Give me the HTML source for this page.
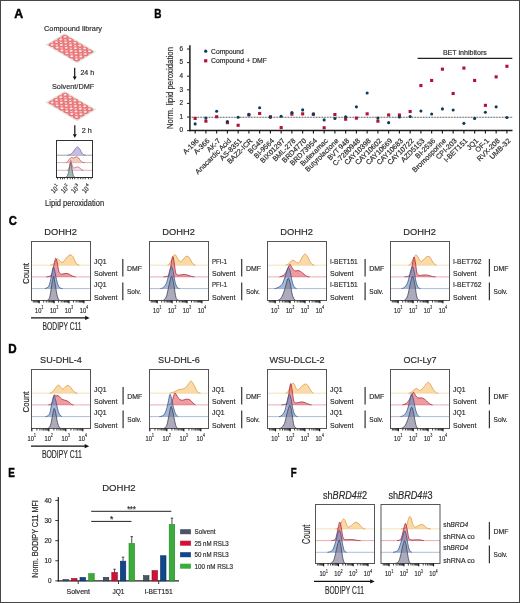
<!DOCTYPE html>
<html><head><meta charset="utf-8"><style>
html,body{margin:0;padding:0;background:#fff;}
svg{display:block;font-family:"Liberation Sans", sans-serif;will-change:transform;}
svg text{stroke:#2b2b2b;stroke-width:0.18px;}
</style></head><body>
<svg width="520" height="603" viewBox="0 0 520 603">
<rect width="520" height="603" fill="#fff"/>
<text x="14.30" y="18.30" font-size="12.5" fill="#000" font-weight="bold" textLength="8.9" lengthAdjust="spacingAndGlyphs" style="stroke:#000;stroke-width:0.45px">A</text>
<text x="154.30" y="18.40" font-size="12.5" fill="#000" font-weight="bold" textLength="7.2" lengthAdjust="spacingAndGlyphs" style="stroke:#000;stroke-width:0.45px">B</text>
<text x="8.70" y="225.20" font-size="12.5" fill="#000" font-weight="bold" textLength="8.1" lengthAdjust="spacingAndGlyphs" style="stroke:#000;stroke-width:0.45px">C</text>
<text x="8.30" y="352.70" font-size="12.5" fill="#000" font-weight="bold" textLength="8.4" lengthAdjust="spacingAndGlyphs" style="stroke:#000;stroke-width:0.45px">D</text>
<text x="8.30" y="476.90" font-size="12.5" fill="#000" font-weight="bold" textLength="6.6" lengthAdjust="spacingAndGlyphs" style="stroke:#000;stroke-width:0.45px">E</text>
<text x="290.80" y="476.90" font-size="12.5" fill="#000" font-weight="bold" textLength="5.9" lengthAdjust="spacingAndGlyphs" style="stroke:#000;stroke-width:0.45px">F</text>
<text x="73.00" y="31.10" font-size="8" fill="#2b2b2b" text-anchor="middle" textLength="58" lengthAdjust="spacingAndGlyphs" >Compound library</text>
<g transform="matrix(4.88 2.88 4.3 -2.6 47.6 44.8)">
<rect x="-0.14" y="-0.14" width="6.28" height="4.28" fill="#f6d3cc" stroke="#dbe8df" stroke-width="0.18"/>
<circle cx="0.5" cy="0.5" r="0.53" fill="#e8757c"/>
<circle cx="0.5" cy="1.5" r="0.53" fill="#e8757c"/>
<circle cx="0.5" cy="2.5" r="0.53" fill="#e8757c"/>
<circle cx="0.5" cy="3.5" r="0.53" fill="#e8757c"/>
<circle cx="1.5" cy="0.5" r="0.53" fill="#e8757c"/>
<circle cx="1.5" cy="1.5" r="0.53" fill="#e8757c"/>
<circle cx="1.5" cy="2.5" r="0.53" fill="#e8757c"/>
<circle cx="1.5" cy="3.5" r="0.53" fill="#e8757c"/>
<circle cx="2.5" cy="0.5" r="0.53" fill="#e8757c"/>
<circle cx="2.5" cy="1.5" r="0.53" fill="#e8757c"/>
<circle cx="2.5" cy="2.5" r="0.53" fill="#e8757c"/>
<circle cx="2.5" cy="3.5" r="0.53" fill="#e8757c"/>
<circle cx="3.5" cy="0.5" r="0.53" fill="#e8757c"/>
<circle cx="3.5" cy="1.5" r="0.53" fill="#e8757c"/>
<circle cx="3.5" cy="2.5" r="0.53" fill="#e8757c"/>
<circle cx="3.5" cy="3.5" r="0.53" fill="#e8757c"/>
<circle cx="4.5" cy="0.5" r="0.53" fill="#e8757c"/>
<circle cx="4.5" cy="1.5" r="0.53" fill="#e8757c"/>
<circle cx="4.5" cy="2.5" r="0.53" fill="#e8757c"/>
<circle cx="4.5" cy="3.5" r="0.53" fill="#e8757c"/>
<circle cx="5.5" cy="0.5" r="0.53" fill="#e8757c"/>
<circle cx="5.5" cy="1.5" r="0.53" fill="#e8757c"/>
<circle cx="5.5" cy="2.5" r="0.53" fill="#e8757c"/>
<circle cx="5.5" cy="3.5" r="0.53" fill="#e8757c"/>
</g>
<ellipse cx="52.19" cy="44.69" rx="1.55" ry="0.95" fill="#fde6da"/>
<ellipse cx="56.49" cy="42.09" rx="1.55" ry="0.95" fill="#fde6da"/>
<ellipse cx="60.79" cy="39.49" rx="1.55" ry="0.95" fill="#fde6da"/>
<ellipse cx="65.09" cy="36.89" rx="1.55" ry="0.95" fill="#fde6da"/>
<ellipse cx="57.07" cy="47.57" rx="1.55" ry="0.95" fill="#fde6da"/>
<ellipse cx="61.37" cy="44.97" rx="1.55" ry="0.95" fill="#fde6da"/>
<ellipse cx="65.67" cy="42.37" rx="1.55" ry="0.95" fill="#fde6da"/>
<ellipse cx="69.97" cy="39.77" rx="1.55" ry="0.95" fill="#fde6da"/>
<ellipse cx="61.95" cy="50.45" rx="1.55" ry="0.95" fill="#fde6da"/>
<ellipse cx="66.25" cy="47.85" rx="1.55" ry="0.95" fill="#fde6da"/>
<ellipse cx="70.55" cy="45.25" rx="1.55" ry="0.95" fill="#fde6da"/>
<ellipse cx="74.85" cy="42.65" rx="1.55" ry="0.95" fill="#fde6da"/>
<ellipse cx="66.83" cy="53.33" rx="1.55" ry="0.95" fill="#fde6da"/>
<ellipse cx="71.13" cy="50.73" rx="1.55" ry="0.95" fill="#fde6da"/>
<ellipse cx="75.43" cy="48.13" rx="1.55" ry="0.95" fill="#fde6da"/>
<ellipse cx="79.73" cy="45.53" rx="1.55" ry="0.95" fill="#fde6da"/>
<ellipse cx="71.71" cy="56.21" rx="1.55" ry="0.95" fill="#fde6da"/>
<ellipse cx="76.01" cy="53.61" rx="1.55" ry="0.95" fill="#fde6da"/>
<ellipse cx="80.31" cy="51.01" rx="1.55" ry="0.95" fill="#fde6da"/>
<ellipse cx="84.61" cy="48.41" rx="1.55" ry="0.95" fill="#fde6da"/>
<ellipse cx="76.59" cy="59.09" rx="1.55" ry="0.95" fill="#fde6da"/>
<ellipse cx="80.89" cy="56.49" rx="1.55" ry="0.95" fill="#fde6da"/>
<ellipse cx="85.19" cy="53.89" rx="1.55" ry="0.95" fill="#fde6da"/>
<ellipse cx="89.49" cy="51.29" rx="1.55" ry="0.95" fill="#fde6da"/>
<g transform="matrix(4.88 2.88 4.3 -2.6 47.6 102.6)">
<rect x="-0.14" y="-0.14" width="6.28" height="4.28" fill="#f6d3cc" stroke="#dbe8df" stroke-width="0.18"/>
<circle cx="0.5" cy="0.5" r="0.53" fill="#e8757c"/>
<circle cx="0.5" cy="1.5" r="0.53" fill="#e8757c"/>
<circle cx="0.5" cy="2.5" r="0.53" fill="#e8757c"/>
<circle cx="0.5" cy="3.5" r="0.53" fill="#e8757c"/>
<circle cx="1.5" cy="0.5" r="0.53" fill="#e8757c"/>
<circle cx="1.5" cy="1.5" r="0.53" fill="#e8757c"/>
<circle cx="1.5" cy="2.5" r="0.53" fill="#e8757c"/>
<circle cx="1.5" cy="3.5" r="0.53" fill="#e8757c"/>
<circle cx="2.5" cy="0.5" r="0.53" fill="#e8757c"/>
<circle cx="2.5" cy="1.5" r="0.53" fill="#e8757c"/>
<circle cx="2.5" cy="2.5" r="0.53" fill="#e8757c"/>
<circle cx="2.5" cy="3.5" r="0.53" fill="#e8757c"/>
<circle cx="3.5" cy="0.5" r="0.53" fill="#e8757c"/>
<circle cx="3.5" cy="1.5" r="0.53" fill="#e8757c"/>
<circle cx="3.5" cy="2.5" r="0.53" fill="#e8757c"/>
<circle cx="3.5" cy="3.5" r="0.53" fill="#e8757c"/>
<circle cx="4.5" cy="0.5" r="0.53" fill="#e8757c"/>
<circle cx="4.5" cy="1.5" r="0.53" fill="#e8757c"/>
<circle cx="4.5" cy="2.5" r="0.53" fill="#e8757c"/>
<circle cx="4.5" cy="3.5" r="0.53" fill="#e8757c"/>
<circle cx="5.5" cy="0.5" r="0.53" fill="#e8757c"/>
<circle cx="5.5" cy="1.5" r="0.53" fill="#e8757c"/>
<circle cx="5.5" cy="2.5" r="0.53" fill="#e8757c"/>
<circle cx="5.5" cy="3.5" r="0.53" fill="#e8757c"/>
</g>
<ellipse cx="52.19" cy="102.49" rx="1.55" ry="0.95" fill="#fde6da"/>
<ellipse cx="56.49" cy="99.89" rx="1.55" ry="0.95" fill="#fde6da"/>
<ellipse cx="60.79" cy="97.29" rx="1.55" ry="0.95" fill="#fde6da"/>
<ellipse cx="65.09" cy="94.69" rx="1.55" ry="0.95" fill="#fde6da"/>
<ellipse cx="57.07" cy="105.37" rx="1.55" ry="0.95" fill="#fde6da"/>
<ellipse cx="61.37" cy="102.77" rx="1.55" ry="0.95" fill="#fde6da"/>
<ellipse cx="65.67" cy="100.17" rx="1.55" ry="0.95" fill="#fde6da"/>
<ellipse cx="69.97" cy="97.57" rx="1.55" ry="0.95" fill="#fde6da"/>
<ellipse cx="61.95" cy="108.25" rx="1.55" ry="0.95" fill="#fde6da"/>
<ellipse cx="66.25" cy="105.65" rx="1.55" ry="0.95" fill="#fde6da"/>
<ellipse cx="70.55" cy="103.05" rx="1.55" ry="0.95" fill="#fde6da"/>
<ellipse cx="74.85" cy="100.45" rx="1.55" ry="0.95" fill="#fde6da"/>
<ellipse cx="66.83" cy="111.13" rx="1.55" ry="0.95" fill="#fde6da"/>
<ellipse cx="71.13" cy="108.53" rx="1.55" ry="0.95" fill="#fde6da"/>
<ellipse cx="75.43" cy="105.93" rx="1.55" ry="0.95" fill="#fde6da"/>
<ellipse cx="79.73" cy="103.33" rx="1.55" ry="0.95" fill="#fde6da"/>
<ellipse cx="71.71" cy="114.01" rx="1.55" ry="0.95" fill="#fde6da"/>
<ellipse cx="76.01" cy="111.41" rx="1.55" ry="0.95" fill="#fde6da"/>
<ellipse cx="80.31" cy="108.81" rx="1.55" ry="0.95" fill="#fde6da"/>
<ellipse cx="84.61" cy="106.21" rx="1.55" ry="0.95" fill="#fde6da"/>
<ellipse cx="76.59" cy="116.89" rx="1.55" ry="0.95" fill="#fde6da"/>
<ellipse cx="80.89" cy="114.29" rx="1.55" ry="0.95" fill="#fde6da"/>
<ellipse cx="85.19" cy="111.69" rx="1.55" ry="0.95" fill="#fde6da"/>
<ellipse cx="89.49" cy="109.09" rx="1.55" ry="0.95" fill="#fde6da"/>
<line x1="74.70" y1="67.70" x2="74.70" y2="77.00" stroke="#111" stroke-width="1.2" />
<polygon points="72.70,76.50 76.70,76.50 74.70,80.00" fill="#111"/>
<text x="80.40" y="75.30" font-size="7" fill="#2b2b2b" textLength="13.8" lengthAdjust="spacingAndGlyphs" >24 h</text>
<text x="73.10" y="88.90" font-size="8" fill="#2b2b2b" text-anchor="middle" textLength="42.3" lengthAdjust="spacingAndGlyphs" >Solvent/DMF</text>
<line x1="74.80" y1="125.20" x2="74.80" y2="134.70" stroke="#111" stroke-width="1.2" />
<polygon points="72.80,134.20 76.80,134.20 74.80,137.70" fill="#111"/>
<text x="81.70" y="132.90" font-size="7" fill="#2b2b2b" textLength="10" lengthAdjust="spacingAndGlyphs" >2 h</text>
<clipPath id="cmini"><rect x="56.5" y="140.5" width="36.0" height="37.0"/></clipPath>
<g clip-path="url(#cmini)">
<line x1="56.50" y1="155.20" x2="92.50" y2="155.20" stroke="#a09eac" stroke-width="1" />
<path d="M67.50,155.20 C67.92,155.10 69.17,155.02 70.00,154.60 C70.83,154.18 71.67,153.60 72.50,152.70 C73.33,151.80 74.17,150.17 75.00,149.20 C75.83,148.23 76.70,146.90 77.50,146.90 C78.30,146.90 79.05,148.15 79.80,149.20 C80.55,150.25 81.30,152.25 82.00,153.20 C82.70,154.15 83.42,154.57 84.00,154.90 C84.58,155.23 85.25,155.15 85.50,155.20 L85.50,155.20 L67.50,155.20 Z" fill="#c2b6e0" fill-opacity="0.92" stroke="none"/>
<path d="M67.50,155.20 C67.92,155.10 69.17,155.02 70.00,154.60 C70.83,154.18 71.67,153.60 72.50,152.70 C73.33,151.80 74.17,150.17 75.00,149.20 C75.83,148.23 76.70,146.90 77.50,146.90 C78.30,146.90 79.05,148.15 79.80,149.20 C80.55,150.25 81.30,152.25 82.00,153.20 C82.70,154.15 83.42,154.57 84.00,154.90 C84.58,155.23 85.25,155.15 85.50,155.20" fill="none" stroke="#6f5f95" stroke-width="0.7"/>
<line x1="56.50" y1="162.60" x2="92.50" y2="162.60" stroke="#d9b2b4" stroke-width="1" />
<path d="M66.00,162.60 C66.25,162.47 66.92,162.38 67.50,161.80 C68.08,161.22 68.85,159.83 69.50,159.10 C70.15,158.37 70.73,157.58 71.40,157.40 C72.07,157.22 72.63,158.10 73.50,158.00 C74.37,157.90 75.73,156.78 76.60,156.80 C77.47,156.82 78.05,157.43 78.70,158.10 C79.35,158.77 79.87,160.12 80.50,160.80 C81.13,161.48 81.83,161.90 82.50,162.20 C83.17,162.50 84.17,162.53 84.50,162.60 L84.50,162.60 L66.00,162.60 Z" fill="#f5bfb2" fill-opacity="0.85" stroke="none"/>
<path d="M66.00,162.60 C66.25,162.47 66.92,162.38 67.50,161.80 C68.08,161.22 68.85,159.83 69.50,159.10 C70.15,158.37 70.73,157.58 71.40,157.40 C72.07,157.22 72.63,158.10 73.50,158.00 C74.37,157.90 75.73,156.78 76.60,156.80 C77.47,156.82 78.05,157.43 78.70,158.10 C79.35,158.77 79.87,160.12 80.50,160.80 C81.13,161.48 81.83,161.90 82.50,162.20 C83.17,162.50 84.17,162.53 84.50,162.60" fill="none" stroke="#b24a5a" stroke-width="0.7"/>
<line x1="56.50" y1="170.30" x2="92.50" y2="170.30" stroke="#dcb4c2" stroke-width="1" />
<path d="M67.00,170.30 C67.25,170.13 68.03,170.13 68.50,169.30 C68.97,168.47 69.42,166.77 69.80,165.30 C70.18,163.83 70.45,160.67 70.80,160.50 C71.15,160.33 71.48,163.08 71.90,164.30 C72.32,165.52 72.78,167.22 73.30,167.80 C73.82,168.38 74.25,167.95 75.00,167.80 C75.75,167.65 76.97,166.82 77.80,166.90 C78.63,166.98 79.30,167.78 80.00,168.30 C80.70,168.82 81.42,169.67 82.00,170.00 C82.58,170.33 83.25,170.25 83.50,170.30 L83.50,170.30 L67.00,170.30 Z" fill="#f6c6d6" fill-opacity="0.55" stroke="none"/>
<path d="M67.00,170.30 C67.25,170.13 68.03,170.13 68.50,169.30 C68.97,168.47 69.42,166.77 69.80,165.30 C70.18,163.83 70.45,160.67 70.80,160.50 C71.15,160.33 71.48,163.08 71.90,164.30 C72.32,165.52 72.78,167.22 73.30,167.80 C73.82,168.38 74.25,167.95 75.00,167.80 C75.75,167.65 76.97,166.82 77.80,166.90 C78.63,166.98 79.30,167.78 80.00,168.30 C80.70,168.82 81.42,169.67 82.00,170.00 C82.58,170.33 83.25,170.25 83.50,170.30" fill="none" stroke="#c8486e" stroke-width="0.7"/>
<line x1="56.50" y1="177.50" x2="92.50" y2="177.50" stroke="#a9bfb8" stroke-width="1" />
<path d="M65.50,177.50 C65.75,177.33 66.50,177.33 67.00,176.50 C67.50,175.67 68.05,174.17 68.50,172.50 C68.95,170.83 69.35,168.13 69.70,166.50 C70.05,164.87 70.28,162.70 70.60,162.70 C70.92,162.70 71.23,164.70 71.60,166.50 C71.97,168.30 72.40,171.80 72.80,173.50 C73.20,175.20 73.55,176.03 74.00,176.70 C74.45,177.37 75.25,177.37 75.50,177.50 L75.50,177.50 L65.50,177.50 Z" fill="#9aaeaa" fill-opacity="0.88" stroke="none"/>
<path d="M65.50,177.50 C65.75,177.33 66.50,177.33 67.00,176.50 C67.50,175.67 68.05,174.17 68.50,172.50 C68.95,170.83 69.35,168.13 69.70,166.50 C70.05,164.87 70.28,162.70 70.60,162.70 C70.92,162.70 71.23,164.70 71.60,166.50 C71.97,168.30 72.40,171.80 72.80,173.50 C73.20,175.20 73.55,176.03 74.00,176.70 C74.45,177.37 75.25,177.37 75.50,177.50" fill="none" stroke="#3f4a50" stroke-width="0.7"/>
</g>
<rect x="56.5" y="140.5" width="36.0" height="37.0" fill="none" stroke="#333" stroke-width="1"/>
<line x1="57.50" y1="177.40" x2="57.50" y2="179.30" stroke="#222" stroke-width="0.8" />
<line x1="60.50" y1="177.40" x2="60.50" y2="179.30" stroke="#222" stroke-width="0.8" />
<line x1="62.50" y1="177.40" x2="62.50" y2="179.30" stroke="#222" stroke-width="0.8" />
<line x1="64.30" y1="177.40" x2="64.30" y2="179.30" stroke="#222" stroke-width="0.8" />
<line x1="67.50" y1="177.40" x2="67.50" y2="179.30" stroke="#222" stroke-width="0.8" />
<line x1="70.30" y1="177.40" x2="70.30" y2="179.30" stroke="#222" stroke-width="0.8" />
<line x1="72.50" y1="177.40" x2="72.50" y2="179.30" stroke="#222" stroke-width="0.8" />
<line x1="74.70" y1="177.40" x2="74.70" y2="179.30" stroke="#222" stroke-width="0.8" />
<line x1="78.00" y1="177.40" x2="78.00" y2="179.30" stroke="#222" stroke-width="0.8" />
<line x1="80.70" y1="177.40" x2="80.70" y2="179.30" stroke="#222" stroke-width="0.8" />
<line x1="83.00" y1="177.40" x2="83.00" y2="179.30" stroke="#222" stroke-width="0.8" />
<line x1="85.30" y1="177.40" x2="85.30" y2="179.30" stroke="#222" stroke-width="0.8" />
<line x1="88.50" y1="177.40" x2="88.50" y2="179.30" stroke="#222" stroke-width="0.8" />
<line x1="91.00" y1="177.40" x2="91.00" y2="179.30" stroke="#222" stroke-width="0.8" />
<g transform="translate(54.60,189.4) rotate(-45)"><text x="-0.6" y="2.4" font-size="7.0" fill="#2b2b2b" stroke="#2b2b2b" stroke-width="0.2" text-anchor="middle" textLength="6.2" lengthAdjust="spacingAndGlyphs">10</text><text x="2.8" y="-0.8" font-size="4.3" fill="#2b2b2b">1</text></g>
<g transform="translate(64.60,189.4) rotate(-45)"><text x="-0.6" y="2.4" font-size="7.0" fill="#2b2b2b" stroke="#2b2b2b" stroke-width="0.2" text-anchor="middle" textLength="6.2" lengthAdjust="spacingAndGlyphs">10</text><text x="2.8" y="-0.8" font-size="4.3" fill="#2b2b2b">2</text></g>
<g transform="translate(75.00,189.4) rotate(-45)"><text x="-0.6" y="2.4" font-size="7.0" fill="#2b2b2b" stroke="#2b2b2b" stroke-width="0.2" text-anchor="middle" textLength="6.2" lengthAdjust="spacingAndGlyphs">10</text><text x="2.8" y="-0.8" font-size="4.3" fill="#2b2b2b">3</text></g>
<g transform="translate(85.80,189.4) rotate(-45)"><text x="-0.6" y="2.4" font-size="7.0" fill="#2b2b2b" stroke="#2b2b2b" stroke-width="0.2" text-anchor="middle" textLength="6.2" lengthAdjust="spacingAndGlyphs">10</text><text x="2.8" y="-0.8" font-size="4.3" fill="#2b2b2b">4</text></g>
<text x="74.60" y="206.10" font-size="8.7" fill="#2b2b2b" text-anchor="middle" textLength="59" lengthAdjust="spacingAndGlyphs" >Lipid peroxidation</text>
<line x1="189.90" y1="45.30" x2="189.90" y2="131.20" stroke="#1a1a1a" stroke-width="1.5" />
<line x1="187.00" y1="130.60" x2="189.70" y2="130.60" stroke="#222" stroke-width="1.0" />
<text x="181.30" y="132.40" font-size="6.4" fill="#2b2b2b" text-anchor="middle" >0</text>
<line x1="187.00" y1="117.00" x2="189.70" y2="117.00" stroke="#222" stroke-width="1.0" />
<text x="181.30" y="118.80" font-size="6.4" fill="#2b2b2b" text-anchor="middle" >1</text>
<line x1="187.00" y1="103.40" x2="189.70" y2="103.40" stroke="#222" stroke-width="1.0" />
<text x="181.30" y="105.20" font-size="6.4" fill="#2b2b2b" text-anchor="middle" >2</text>
<line x1="187.00" y1="89.80" x2="189.70" y2="89.80" stroke="#222" stroke-width="1.0" />
<text x="181.30" y="91.60" font-size="6.4" fill="#2b2b2b" text-anchor="middle" >3</text>
<line x1="187.00" y1="76.20" x2="189.70" y2="76.20" stroke="#222" stroke-width="1.0" />
<text x="181.30" y="78.00" font-size="6.4" fill="#2b2b2b" text-anchor="middle" >4</text>
<line x1="187.00" y1="62.60" x2="189.70" y2="62.60" stroke="#222" stroke-width="1.0" />
<text x="181.30" y="64.40" font-size="6.4" fill="#2b2b2b" text-anchor="middle" >5</text>
<line x1="187.00" y1="49.00" x2="189.70" y2="49.00" stroke="#222" stroke-width="1.0" />
<text x="181.30" y="50.80" font-size="6.4" fill="#2b2b2b" text-anchor="middle" >6</text>
<line x1="189.10" y1="130.60" x2="512.50" y2="130.60" stroke="#1a1a1a" stroke-width="1.5" />
<line x1="195.15" y1="130.50" x2="195.15" y2="133.60" stroke="#111" stroke-width="1.1" />
<line x1="205.90" y1="130.50" x2="205.90" y2="133.60" stroke="#111" stroke-width="1.1" />
<line x1="216.65" y1="130.50" x2="216.65" y2="133.60" stroke="#111" stroke-width="1.1" />
<line x1="227.40" y1="130.50" x2="227.40" y2="133.60" stroke="#111" stroke-width="1.1" />
<line x1="238.15" y1="130.50" x2="238.15" y2="133.60" stroke="#111" stroke-width="1.1" />
<line x1="248.90" y1="130.50" x2="248.90" y2="133.60" stroke="#111" stroke-width="1.1" />
<line x1="259.65" y1="130.50" x2="259.65" y2="133.60" stroke="#111" stroke-width="1.1" />
<line x1="270.40" y1="130.50" x2="270.40" y2="133.60" stroke="#111" stroke-width="1.1" />
<line x1="281.15" y1="130.50" x2="281.15" y2="133.60" stroke="#111" stroke-width="1.1" />
<line x1="291.90" y1="130.50" x2="291.90" y2="133.60" stroke="#111" stroke-width="1.1" />
<line x1="302.65" y1="130.50" x2="302.65" y2="133.60" stroke="#111" stroke-width="1.1" />
<line x1="313.40" y1="130.50" x2="313.40" y2="133.60" stroke="#111" stroke-width="1.1" />
<line x1="324.15" y1="130.50" x2="324.15" y2="133.60" stroke="#111" stroke-width="1.1" />
<line x1="334.90" y1="130.50" x2="334.90" y2="133.60" stroke="#111" stroke-width="1.1" />
<line x1="345.65" y1="130.50" x2="345.65" y2="133.60" stroke="#111" stroke-width="1.1" />
<line x1="356.40" y1="130.50" x2="356.40" y2="133.60" stroke="#111" stroke-width="1.1" />
<line x1="367.15" y1="130.50" x2="367.15" y2="133.60" stroke="#111" stroke-width="1.1" />
<line x1="377.90" y1="130.50" x2="377.90" y2="133.60" stroke="#111" stroke-width="1.1" />
<line x1="388.65" y1="130.50" x2="388.65" y2="133.60" stroke="#111" stroke-width="1.1" />
<line x1="399.40" y1="130.50" x2="399.40" y2="133.60" stroke="#111" stroke-width="1.1" />
<line x1="410.15" y1="130.50" x2="410.15" y2="133.60" stroke="#111" stroke-width="1.1" />
<line x1="420.90" y1="130.50" x2="420.90" y2="133.60" stroke="#111" stroke-width="1.1" />
<line x1="431.65" y1="130.50" x2="431.65" y2="133.60" stroke="#111" stroke-width="1.1" />
<line x1="442.40" y1="130.50" x2="442.40" y2="133.60" stroke="#111" stroke-width="1.1" />
<line x1="453.15" y1="130.50" x2="453.15" y2="133.60" stroke="#111" stroke-width="1.1" />
<line x1="463.90" y1="130.50" x2="463.90" y2="133.60" stroke="#111" stroke-width="1.1" />
<line x1="474.65" y1="130.50" x2="474.65" y2="133.60" stroke="#111" stroke-width="1.1" />
<line x1="485.40" y1="130.50" x2="485.40" y2="133.60" stroke="#111" stroke-width="1.1" />
<line x1="496.15" y1="130.50" x2="496.15" y2="133.60" stroke="#111" stroke-width="1.1" />
<line x1="506.90" y1="130.50" x2="506.90" y2="133.60" stroke="#111" stroke-width="1.1" />
<line x1="190.5" y1="117.25" x2="512.5" y2="117.25" stroke="#333" stroke-width="1" stroke-dasharray="0.8 0.75"/>
<text x="172.70" y="88.00" font-size="8.2" fill="#2b2b2b" text-anchor="middle" textLength="82" lengthAdjust="spacingAndGlyphs" transform="rotate(-90 172.70 88.00)" >Norm. lipid peroxidation</text>
<rect x="193.60" y="116.85" width="3.10" height="3.10" fill="#b0103a" />
<rect x="204.35" y="119.60" width="3.10" height="3.10" fill="#b0103a" />
<rect x="215.10" y="115.20" width="3.10" height="3.10" fill="#b0103a" />
<rect x="225.85" y="121.11" width="3.10" height="3.10" fill="#b0103a" />
<rect x="236.60" y="123.73" width="3.10" height="3.10" fill="#b0103a" />
<rect x="247.35" y="113.41" width="3.10" height="3.10" fill="#b0103a" />
<rect x="258.10" y="111.90" width="3.10" height="3.10" fill="#b0103a" />
<rect x="268.85" y="115.20" width="3.10" height="3.10" fill="#b0103a" />
<rect x="279.60" y="126.06" width="3.10" height="3.10" fill="#b0103a" />
<rect x="290.35" y="112.59" width="3.10" height="3.10" fill="#b0103a" />
<rect x="301.10" y="112.31" width="3.10" height="3.10" fill="#b0103a" />
<rect x="311.85" y="112.59" width="3.10" height="3.10" fill="#b0103a" />
<rect x="322.60" y="126.20" width="3.10" height="3.10" fill="#b0103a" />
<rect x="333.35" y="113.00" width="3.10" height="3.10" fill="#b0103a" />
<rect x="344.10" y="117.67" width="3.10" height="3.10" fill="#b0103a" />
<rect x="354.85" y="116.58" width="3.10" height="3.10" fill="#b0103a" />
<rect x="365.60" y="112.31" width="3.10" height="3.10" fill="#b0103a" />
<rect x="376.35" y="119.60" width="3.10" height="3.10" fill="#b0103a" />
<rect x="387.10" y="113.41" width="3.10" height="3.10" fill="#b0103a" />
<rect x="397.85" y="113.41" width="3.10" height="3.10" fill="#b0103a" />
<rect x="408.60" y="109.98" width="3.10" height="3.10" fill="#b0103a" />
<rect x="419.35" y="83.99" width="3.10" height="3.10" fill="#b0103a" />
<rect x="430.10" y="78.90" width="3.10" height="3.10" fill="#b0103a" />
<rect x="440.85" y="67.62" width="3.10" height="3.10" fill="#b0103a" />
<rect x="451.60" y="91.96" width="3.10" height="3.10" fill="#b0103a" />
<rect x="462.35" y="66.53" width="3.10" height="3.10" fill="#b0103a" />
<rect x="473.10" y="78.90" width="3.10" height="3.10" fill="#b0103a" />
<rect x="483.85" y="103.79" width="3.10" height="3.10" fill="#b0103a" />
<rect x="494.60" y="75.33" width="3.10" height="3.10" fill="#b0103a" />
<rect x="505.35" y="64.74" width="3.10" height="3.10" fill="#b0103a" />
<circle cx="195.15" cy="123.90" r="1.55" fill="#0c3a5a"/>
<circle cx="205.90" cy="118.12" r="1.55" fill="#0c3a5a"/>
<circle cx="216.65" cy="111.25" r="1.55" fill="#0c3a5a"/>
<circle cx="227.40" cy="121.56" r="1.55" fill="#0c3a5a"/>
<circle cx="238.15" cy="117.30" r="1.55" fill="#0c3a5a"/>
<circle cx="248.90" cy="114.41" r="1.55" fill="#0c3a5a"/>
<circle cx="259.65" cy="107.81" r="1.55" fill="#0c3a5a"/>
<circle cx="270.40" cy="117.30" r="1.55" fill="#0c3a5a"/>
<circle cx="281.15" cy="116.20" r="1.55" fill="#0c3a5a"/>
<circle cx="291.90" cy="112.62" r="1.55" fill="#0c3a5a"/>
<circle cx="302.65" cy="109.88" r="1.55" fill="#0c3a5a"/>
<circle cx="313.40" cy="114.14" r="1.55" fill="#0c3a5a"/>
<circle cx="324.15" cy="119.91" r="1.55" fill="#0c3a5a"/>
<circle cx="334.90" cy="118.54" r="1.55" fill="#0c3a5a"/>
<circle cx="345.65" cy="116.75" r="1.55" fill="#0c3a5a"/>
<circle cx="356.40" cy="106.85" r="1.55" fill="#0c3a5a"/>
<circle cx="367.15" cy="92.96" r="1.55" fill="#0c3a5a"/>
<circle cx="377.90" cy="118.12" r="1.55" fill="#0c3a5a"/>
<circle cx="388.65" cy="122.66" r="1.55" fill="#0c3a5a"/>
<circle cx="399.40" cy="117.03" r="1.55" fill="#0c3a5a"/>
<circle cx="410.15" cy="116.47" r="1.55" fill="#0c3a5a"/>
<circle cx="420.90" cy="110.97" r="1.55" fill="#0c3a5a"/>
<circle cx="431.65" cy="114.00" r="1.55" fill="#0c3a5a"/>
<circle cx="442.40" cy="108.91" r="1.55" fill="#0c3a5a"/>
<circle cx="453.15" cy="110.01" r="1.55" fill="#0c3a5a"/>
<circle cx="463.90" cy="123.35" r="1.55" fill="#0c3a5a"/>
<circle cx="474.65" cy="118.40" r="1.55" fill="#0c3a5a"/>
<circle cx="485.40" cy="112.21" r="1.55" fill="#0c3a5a"/>
<circle cx="496.15" cy="106.85" r="1.55" fill="#0c3a5a"/>
<circle cx="506.90" cy="117.44" r="1.55" fill="#0c3a5a"/>
<text x="0" y="0" font-size="7.15" fill="#2b2b2b" text-anchor="end" transform="translate(199.25,141.30) rotate(-45)">A-196</text>
<text x="0" y="0" font-size="7.15" fill="#2b2b2b" text-anchor="end" transform="translate(210.00,141.30) rotate(-45)">A-366</text>
<text x="0" y="0" font-size="7.15" fill="#2b2b2b" text-anchor="end" transform="translate(220.75,141.30) rotate(-45)">AK-7</text>
<text x="0" y="0" font-size="7.15" fill="#2b2b2b" text-anchor="end" transform="translate(231.50,141.30) rotate(-45)">Anacardic Acid</text>
<text x="0" y="0" font-size="7.15" fill="#2b2b2b" text-anchor="end" transform="translate(242.25,141.30) rotate(-45)">AS-8351</text>
<text x="0" y="0" font-size="7.15" fill="#2b2b2b" text-anchor="end" transform="translate(253.00,141.30) rotate(-45)">BAZ2-ICR</text>
<text x="0" y="0" font-size="7.15" fill="#2b2b2b" text-anchor="end" transform="translate(263.75,141.30) rotate(-45)">BG45</text>
<text x="0" y="0" font-size="7.15" fill="#2b2b2b" text-anchor="end" transform="translate(274.50,141.30) rotate(-45)">BI-9564</text>
<text x="0" y="0" font-size="7.15" fill="#2b2b2b" text-anchor="end" transform="translate(285.25,141.30) rotate(-45)">BIX01297</text>
<text x="0" y="0" font-size="7.15" fill="#2b2b2b" text-anchor="end" transform="translate(296.00,141.30) rotate(-45)">BML-278</text>
<text x="0" y="0" font-size="7.15" fill="#2b2b2b" text-anchor="end" transform="translate(306.75,141.30) rotate(-45)">BRD4770</text>
<text x="0" y="0" font-size="7.15" fill="#2b2b2b" text-anchor="end" transform="translate(317.50,141.30) rotate(-45)">BRD73954</text>
<text x="0" y="0" font-size="7.15" fill="#2b2b2b" text-anchor="end" transform="translate(328.25,141.30) rotate(-45)">Bufexamac</text>
<text x="0" y="0" font-size="7.15" fill="#2b2b2b" text-anchor="end" transform="translate(339.00,141.30) rotate(-45)">Butyrolactone</text>
<text x="0" y="0" font-size="7.15" fill="#2b2b2b" text-anchor="end" transform="translate(349.75,141.30) rotate(-45)">BVT 948</text>
<text x="0" y="0" font-size="7.15" fill="#2b2b2b" text-anchor="end" transform="translate(360.50,141.30) rotate(-45)">C-7280948</text>
<text x="0" y="0" font-size="7.15" fill="#2b2b2b" text-anchor="end" transform="translate(371.25,141.30) rotate(-45)">CAY10398</text>
<text x="0" y="0" font-size="7.15" fill="#2b2b2b" text-anchor="end" transform="translate(382.00,141.30) rotate(-45)">CAY10602</text>
<text x="0" y="0" font-size="7.15" fill="#2b2b2b" text-anchor="end" transform="translate(392.75,141.30) rotate(-45)">CAY10669</text>
<text x="0" y="0" font-size="7.15" fill="#2b2b2b" text-anchor="end" transform="translate(403.50,141.30) rotate(-45)">CAY10683</text>
<text x="0" y="0" font-size="7.15" fill="#2b2b2b" text-anchor="end" transform="translate(414.25,141.30) rotate(-45)">CAY10722</text>
<text x="0" y="0" font-size="7.15" fill="#2b2b2b" text-anchor="end" transform="translate(425.00,141.30) rotate(-45)">AZD5153</text>
<text x="0" y="0" font-size="7.15" fill="#2b2b2b" text-anchor="end" transform="translate(435.75,141.30) rotate(-45)">BI-2536</text>
<text x="0" y="0" font-size="7.15" fill="#2b2b2b" text-anchor="end" transform="translate(446.50,141.30) rotate(-45)">Bromosporine</text>
<text x="0" y="0" font-size="7.15" fill="#2b2b2b" text-anchor="end" transform="translate(457.25,141.30) rotate(-45)">CPI-203</text>
<text x="0" y="0" font-size="7.15" fill="#2b2b2b" text-anchor="end" transform="translate(468.00,141.30) rotate(-45)">I-BET151</text>
<text x="0" y="0" font-size="7.15" fill="#2b2b2b" text-anchor="end" transform="translate(478.75,141.30) rotate(-45)">JQ1</text>
<text x="0" y="0" font-size="7.15" fill="#2b2b2b" text-anchor="end" transform="translate(489.50,141.30) rotate(-45)">OF-1</text>
<text x="0" y="0" font-size="7.15" fill="#2b2b2b" text-anchor="end" transform="translate(500.25,141.30) rotate(-45)">RVX-208</text>
<text x="0" y="0" font-size="7.15" fill="#2b2b2b" text-anchor="end" transform="translate(511.00,141.30) rotate(-45)">UMB-32</text>
<circle cx="205.7" cy="51.2" r="1.6" fill="#0c3a5a"/>
<rect x="204.10" y="59.20" width="3.20" height="3.20" fill="#b0103a" />
<text x="211.10" y="53.60" font-size="6.8" fill="#2b2b2b" textLength="32.7" lengthAdjust="spacingAndGlyphs" >Compound</text>
<text x="211.10" y="63.00" font-size="6.8" fill="#2b2b2b" textLength="55.8" lengthAdjust="spacingAndGlyphs" >Compound + DMF</text>
<line x1="417.60" y1="58.30" x2="512.30" y2="58.30" stroke="#222" stroke-width="1.2" />
<text x="464.90" y="55.10" font-size="7.4" fill="#2b2b2b" text-anchor="middle" textLength="44" lengthAdjust="spacingAndGlyphs" >BET inhibitors</text>
<clipPath id="c31_241"><rect x="31.5" y="241.5" width="59.0" height="59.0"/></clipPath>
<g clip-path="url(#c31_241)">
<line x1="31.50" y1="265.20" x2="90.50" y2="265.20" stroke="#f2e2b8" stroke-width="1" />
<path d="M50.50,265.20 C51.00,265.03 52.63,264.95 53.50,264.20 C54.37,263.45 55.00,261.62 55.70,260.70 C56.40,259.78 57.03,258.70 57.70,258.70 C58.37,258.70 59.02,260.10 59.70,260.70 C60.38,261.30 61.08,262.22 61.80,262.30 C62.52,262.38 63.22,261.97 64.00,261.20 C64.78,260.43 65.67,258.67 66.50,257.70 C67.33,256.73 68.28,255.87 69.00,255.40 C69.72,254.93 70.13,254.68 70.80,254.90 C71.47,255.12 72.30,255.65 73.00,256.70 C73.70,257.75 74.33,259.95 75.00,261.20 C75.67,262.45 76.25,263.53 77.00,264.20 C77.75,264.87 79.08,265.03 79.50,265.20 L79.50,265.20 L50.50,265.20 Z" fill="#f9c275" fill-opacity="0.62" stroke="none"/>
<path d="M50.50,265.20 C51.00,265.03 52.63,264.95 53.50,264.20 C54.37,263.45 55.00,261.62 55.70,260.70 C56.40,259.78 57.03,258.70 57.70,258.70 C58.37,258.70 59.02,260.10 59.70,260.70 C60.38,261.30 61.08,262.22 61.80,262.30 C62.52,262.38 63.22,261.97 64.00,261.20 C64.78,260.43 65.67,258.67 66.50,257.70 C67.33,256.73 68.28,255.87 69.00,255.40 C69.72,254.93 70.13,254.68 70.80,254.90 C71.47,255.12 72.30,255.65 73.00,256.70 C73.70,257.75 74.33,259.95 75.00,261.20 C75.67,262.45 76.25,263.53 77.00,264.20 C77.75,264.87 79.08,265.03 79.50,265.20" fill="none" stroke="#d99c42" stroke-width="0.8"/>
<line x1="31.50" y1="276.90" x2="90.50" y2="276.90" stroke="#e6adb8" stroke-width="1" />
<path d="M46.50,276.90 C47.00,276.80 48.58,276.80 49.50,276.30 C50.42,275.80 51.28,275.63 52.00,273.90 C52.72,272.17 53.18,268.50 53.80,265.90 C54.42,263.30 55.12,258.80 55.70,258.30 C56.28,257.80 56.80,260.80 57.30,262.90 C57.80,265.00 58.17,269.07 58.70,270.90 C59.23,272.73 59.87,273.37 60.50,273.90 C61.13,274.43 61.75,274.15 62.50,274.10 C63.25,274.05 64.25,273.70 65.00,273.60 C65.75,273.50 66.25,273.37 67.00,273.50 C67.75,273.63 68.58,273.97 69.50,274.40 C70.42,274.83 71.50,275.68 72.50,276.10 C73.50,276.52 75.00,276.77 75.50,276.90 L75.50,276.90 L46.50,276.90 Z" fill="#e3535b" fill-opacity="0.58" stroke="none"/>
<path d="M46.50,276.90 C47.00,276.80 48.58,276.80 49.50,276.30 C50.42,275.80 51.28,275.63 52.00,273.90 C52.72,272.17 53.18,268.50 53.80,265.90 C54.42,263.30 55.12,258.80 55.70,258.30 C56.28,257.80 56.80,260.80 57.30,262.90 C57.80,265.00 58.17,269.07 58.70,270.90 C59.23,272.73 59.87,273.37 60.50,273.90 C61.13,274.43 61.75,274.15 62.50,274.10 C63.25,274.05 64.25,273.70 65.00,273.60 C65.75,273.50 66.25,273.37 67.00,273.50 C67.75,273.63 68.58,273.97 69.50,274.40 C70.42,274.83 71.50,275.68 72.50,276.10 C73.50,276.52 75.00,276.77 75.50,276.90" fill="none" stroke="#a32a3c" stroke-width="0.8"/>
<line x1="31.50" y1="288.60" x2="90.50" y2="288.60" stroke="#aebdd6" stroke-width="1" />
<path d="M45.00,288.60 C45.33,288.47 46.33,288.30 47.00,287.80 C47.67,287.30 48.38,286.97 49.00,285.60 C49.62,284.23 50.20,281.77 50.70,279.60 C51.20,277.43 51.57,274.68 52.00,272.60 C52.43,270.52 52.85,267.43 53.30,267.10 C53.75,266.77 54.17,268.52 54.70,270.60 C55.23,272.68 55.87,277.02 56.50,279.60 C57.13,282.18 57.83,284.68 58.50,286.10 C59.17,287.52 59.83,287.68 60.50,288.10 C61.17,288.52 62.17,288.52 62.50,288.60 L62.50,288.60 L45.00,288.60 Z" fill="#6486c0" fill-opacity="0.58" stroke="none"/>
<path d="M45.00,288.60 C45.33,288.47 46.33,288.30 47.00,287.80 C47.67,287.30 48.38,286.97 49.00,285.60 C49.62,284.23 50.20,281.77 50.70,279.60 C51.20,277.43 51.57,274.68 52.00,272.60 C52.43,270.52 52.85,267.43 53.30,267.10 C53.75,266.77 54.17,268.52 54.70,270.60 C55.23,272.68 55.87,277.02 56.50,279.60 C57.13,282.18 57.83,284.68 58.50,286.10 C59.17,287.52 59.83,287.68 60.50,288.10 C61.17,288.52 62.17,288.52 62.50,288.60" fill="none" stroke="#36568a" stroke-width="0.8"/>
<line x1="31.50" y1="300.50" x2="90.50" y2="300.50" stroke="#8c8c9c" stroke-width="1" />
<path d="M47.00,300.50 C47.30,300.30 48.25,300.30 48.80,299.30 C49.35,298.30 49.80,296.97 50.30,294.50 C50.80,292.03 51.27,287.50 51.80,284.50 C52.33,281.50 52.95,276.67 53.50,276.50 C54.05,276.33 54.57,280.67 55.10,283.50 C55.63,286.33 56.17,290.92 56.70,293.50 C57.23,296.08 57.75,297.83 58.30,299.00 C58.85,300.17 59.72,300.25 60.00,300.50 L60.00,300.50 L47.00,300.50 Z" fill="#80809a" fill-opacity="0.66" stroke="none"/>
<path d="M47.00,300.50 C47.30,300.30 48.25,300.30 48.80,299.30 C49.35,298.30 49.80,296.97 50.30,294.50 C50.80,292.03 51.27,287.50 51.80,284.50 C52.33,281.50 52.95,276.67 53.50,276.50 C54.05,276.33 54.57,280.67 55.10,283.50 C55.63,286.33 56.17,290.92 56.70,293.50 C57.23,296.08 57.75,297.83 58.30,299.00 C58.85,300.17 59.72,300.25 60.00,300.50" fill="none" stroke="#404052" stroke-width="0.8"/>
</g>
<rect x="31.50" y="241.50" width="59.00" height="59.00" fill="none" stroke="#555" stroke-width="1"/>
<line x1="39.20" y1="300.50" x2="39.20" y2="303.30" stroke="#111" stroke-width="1.2" />
<line x1="43.69" y1="300.50" x2="43.69" y2="302.50" stroke="#222" stroke-width="0.9" />
<line x1="46.31" y1="300.50" x2="46.31" y2="302.50" stroke="#222" stroke-width="0.9" />
<line x1="48.17" y1="300.50" x2="48.17" y2="302.50" stroke="#222" stroke-width="0.9" />
<line x1="49.61" y1="300.50" x2="49.61" y2="302.50" stroke="#222" stroke-width="0.9" />
<line x1="50.79" y1="300.50" x2="50.79" y2="302.50" stroke="#222" stroke-width="0.9" />
<line x1="51.79" y1="300.50" x2="51.79" y2="302.50" stroke="#222" stroke-width="0.9" />
<line x1="52.66" y1="300.50" x2="52.66" y2="302.50" stroke="#222" stroke-width="0.9" />
<line x1="53.42" y1="300.50" x2="53.42" y2="302.50" stroke="#222" stroke-width="0.9" />
<line x1="33.27" y1="300.50" x2="33.27" y2="302.50" stroke="#222" stroke-width="0.9" />
<line x1="34.71" y1="300.50" x2="34.71" y2="302.50" stroke="#222" stroke-width="0.9" />
<line x1="35.89" y1="300.50" x2="35.89" y2="302.50" stroke="#222" stroke-width="0.9" />
<line x1="36.89" y1="300.50" x2="36.89" y2="302.50" stroke="#222" stroke-width="0.9" />
<line x1="37.76" y1="300.50" x2="37.76" y2="302.50" stroke="#222" stroke-width="0.9" />
<line x1="38.52" y1="300.50" x2="38.52" y2="302.50" stroke="#222" stroke-width="0.9" />
<text x="38.20" y="312.50" font-size="7.6" fill="#2b2b2b" text-anchor="middle" textLength="6.4" lengthAdjust="spacingAndGlyphs" >10</text>
<text x="41.50" y="308.90" font-size="4.6" fill="#2b2b2b" textLength="1.8" lengthAdjust="spacingAndGlyphs" >1</text>
<line x1="54.10" y1="300.50" x2="54.10" y2="303.30" stroke="#111" stroke-width="1.2" />
<line x1="58.59" y1="300.50" x2="58.59" y2="302.50" stroke="#222" stroke-width="0.9" />
<line x1="61.21" y1="300.50" x2="61.21" y2="302.50" stroke="#222" stroke-width="0.9" />
<line x1="63.07" y1="300.50" x2="63.07" y2="302.50" stroke="#222" stroke-width="0.9" />
<line x1="64.51" y1="300.50" x2="64.51" y2="302.50" stroke="#222" stroke-width="0.9" />
<line x1="65.69" y1="300.50" x2="65.69" y2="302.50" stroke="#222" stroke-width="0.9" />
<line x1="66.69" y1="300.50" x2="66.69" y2="302.50" stroke="#222" stroke-width="0.9" />
<line x1="67.56" y1="300.50" x2="67.56" y2="302.50" stroke="#222" stroke-width="0.9" />
<line x1="68.32" y1="300.50" x2="68.32" y2="302.50" stroke="#222" stroke-width="0.9" />
<text x="53.10" y="312.50" font-size="7.6" fill="#2b2b2b" text-anchor="middle" textLength="6.4" lengthAdjust="spacingAndGlyphs" >10</text>
<text x="56.40" y="308.90" font-size="4.6" fill="#2b2b2b" textLength="1.8" lengthAdjust="spacingAndGlyphs" >2</text>
<line x1="69.00" y1="300.50" x2="69.00" y2="303.30" stroke="#111" stroke-width="1.2" />
<line x1="73.49" y1="300.50" x2="73.49" y2="302.50" stroke="#222" stroke-width="0.9" />
<line x1="76.11" y1="300.50" x2="76.11" y2="302.50" stroke="#222" stroke-width="0.9" />
<line x1="77.97" y1="300.50" x2="77.97" y2="302.50" stroke="#222" stroke-width="0.9" />
<line x1="79.41" y1="300.50" x2="79.41" y2="302.50" stroke="#222" stroke-width="0.9" />
<line x1="80.59" y1="300.50" x2="80.59" y2="302.50" stroke="#222" stroke-width="0.9" />
<line x1="81.59" y1="300.50" x2="81.59" y2="302.50" stroke="#222" stroke-width="0.9" />
<line x1="82.46" y1="300.50" x2="82.46" y2="302.50" stroke="#222" stroke-width="0.9" />
<line x1="83.22" y1="300.50" x2="83.22" y2="302.50" stroke="#222" stroke-width="0.9" />
<text x="68.00" y="312.50" font-size="7.6" fill="#2b2b2b" text-anchor="middle" textLength="6.4" lengthAdjust="spacingAndGlyphs" >10</text>
<text x="71.30" y="308.90" font-size="4.6" fill="#2b2b2b" textLength="1.8" lengthAdjust="spacingAndGlyphs" >3</text>
<line x1="83.90" y1="300.50" x2="83.90" y2="303.30" stroke="#111" stroke-width="1.2" />
<text x="82.90" y="312.50" font-size="7.6" fill="#2b2b2b" text-anchor="middle" textLength="6.4" lengthAdjust="spacingAndGlyphs" >10</text>
<text x="86.20" y="308.90" font-size="4.6" fill="#2b2b2b" textLength="1.8" lengthAdjust="spacingAndGlyphs" >4</text>
<text x="60.50" y="234.70" font-size="9.0" fill="#2b2b2b" text-anchor="middle" textLength="32.7" lengthAdjust="spacingAndGlyphs" >DOHH2</text>
<text x="94.00" y="263.50" font-size="7.6" fill="#2b2b2b" textLength="12.5" lengthAdjust="spacingAndGlyphs">JQ1</text>
<text x="94.00" y="275.70" font-size="7.6" fill="#2b2b2b" textLength="23.4" lengthAdjust="spacingAndGlyphs">Solvent</text>
<text x="94.00" y="287.40" font-size="7.6" fill="#2b2b2b" textLength="12.5" lengthAdjust="spacingAndGlyphs">JQ1</text>
<text x="94.00" y="299.50" font-size="7.6" fill="#2b2b2b" textLength="23.4" lengthAdjust="spacingAndGlyphs">Solvent</text>
<line x1="122.80" y1="258.90" x2="122.80" y2="276.50" stroke="#333" stroke-width="1.2" />
<line x1="122.80" y1="282.40" x2="122.80" y2="300.30" stroke="#333" stroke-width="1.2" />
<text x="127.00" y="271.00" font-size="7.6" fill="#2b2b2b" textLength="15" lengthAdjust="spacingAndGlyphs" >DMF</text>
<text x="127.00" y="294.20" font-size="7.6" fill="#2b2b2b" textLength="14" lengthAdjust="spacingAndGlyphs" >Solv.</text>
<clipPath id="c149_241"><rect x="149.5" y="241.5" width="59.0" height="59.0"/></clipPath>
<g clip-path="url(#c149_241)">
<line x1="149.50" y1="265.20" x2="208.50" y2="265.20" stroke="#f2e2b8" stroke-width="1" />
<path d="M167.50,265.20 C167.75,265.07 168.33,265.23 169.00,264.40 C169.67,263.57 170.75,261.65 171.50,260.20 C172.25,258.75 172.92,256.60 173.50,255.70 C174.08,254.80 174.50,254.72 175.00,254.80 C175.50,254.88 175.92,255.30 176.50,256.20 C177.08,257.10 177.85,259.32 178.50,260.20 C179.15,261.08 179.73,261.50 180.40,261.50 C181.07,261.50 181.73,260.92 182.50,260.20 C183.27,259.48 184.23,257.87 185.00,257.20 C185.77,256.53 186.43,256.20 187.10,256.20 C187.77,256.20 188.35,256.45 189.00,257.20 C189.65,257.95 190.33,259.57 191.00,260.70 C191.67,261.83 192.25,263.25 193.00,264.00 C193.75,264.75 195.08,265.00 195.50,265.20 L195.50,265.20 L167.50,265.20 Z" fill="#f9c275" fill-opacity="0.62" stroke="none"/>
<path d="M167.50,265.20 C167.75,265.07 168.33,265.23 169.00,264.40 C169.67,263.57 170.75,261.65 171.50,260.20 C172.25,258.75 172.92,256.60 173.50,255.70 C174.08,254.80 174.50,254.72 175.00,254.80 C175.50,254.88 175.92,255.30 176.50,256.20 C177.08,257.10 177.85,259.32 178.50,260.20 C179.15,261.08 179.73,261.50 180.40,261.50 C181.07,261.50 181.73,260.92 182.50,260.20 C183.27,259.48 184.23,257.87 185.00,257.20 C185.77,256.53 186.43,256.20 187.10,256.20 C187.77,256.20 188.35,256.45 189.00,257.20 C189.65,257.95 190.33,259.57 191.00,260.70 C191.67,261.83 192.25,263.25 193.00,264.00 C193.75,264.75 195.08,265.00 195.50,265.20" fill="none" stroke="#d99c42" stroke-width="0.8"/>
<line x1="149.50" y1="276.90" x2="208.50" y2="276.90" stroke="#e6adb8" stroke-width="1" />
<path d="M163.50,276.90 C164.00,276.82 165.58,276.73 166.50,276.40 C167.42,276.07 168.25,276.82 169.00,274.90 C169.75,272.98 170.38,267.97 171.00,264.90 C171.62,261.83 172.18,257.00 172.70,256.50 C173.22,256.00 173.63,259.33 174.10,261.90 C174.57,264.47 175.02,269.73 175.50,271.90 C175.98,274.07 176.33,274.37 177.00,274.90 C177.67,275.43 178.32,275.18 179.50,275.10 C180.68,275.02 182.77,274.40 184.10,274.40 C185.43,274.40 186.27,274.77 187.50,275.10 C188.73,275.43 190.33,276.10 191.50,276.40 C192.67,276.70 194.00,276.82 194.50,276.90 L194.50,276.90 L163.50,276.90 Z" fill="#e3535b" fill-opacity="0.58" stroke="none"/>
<path d="M163.50,276.90 C164.00,276.82 165.58,276.73 166.50,276.40 C167.42,276.07 168.25,276.82 169.00,274.90 C169.75,272.98 170.38,267.97 171.00,264.90 C171.62,261.83 172.18,257.00 172.70,256.50 C173.22,256.00 173.63,259.33 174.10,261.90 C174.57,264.47 175.02,269.73 175.50,271.90 C175.98,274.07 176.33,274.37 177.00,274.90 C177.67,275.43 178.32,275.18 179.50,275.10 C180.68,275.02 182.77,274.40 184.10,274.40 C185.43,274.40 186.27,274.77 187.50,275.10 C188.73,275.43 190.33,276.10 191.50,276.40 C192.67,276.70 194.00,276.82 194.50,276.90" fill="none" stroke="#a32a3c" stroke-width="0.8"/>
<line x1="149.50" y1="288.60" x2="208.50" y2="288.60" stroke="#aebdd6" stroke-width="1" />
<path d="M160.50,288.60 C160.83,288.50 161.80,288.42 162.50,288.00 C163.20,287.58 163.95,287.17 164.70,286.10 C165.45,285.03 166.25,283.85 167.00,281.60 C167.75,279.35 168.48,275.10 169.20,272.60 C169.92,270.10 170.67,266.93 171.30,266.60 C171.93,266.27 172.38,268.10 173.00,270.60 C173.62,273.10 174.33,278.85 175.00,281.60 C175.67,284.35 176.25,285.93 177.00,287.10 C177.75,288.27 179.08,288.35 179.50,288.60 L179.50,288.60 L160.50,288.60 Z" fill="#6486c0" fill-opacity="0.58" stroke="none"/>
<path d="M160.50,288.60 C160.83,288.50 161.80,288.42 162.50,288.00 C163.20,287.58 163.95,287.17 164.70,286.10 C165.45,285.03 166.25,283.85 167.00,281.60 C167.75,279.35 168.48,275.10 169.20,272.60 C169.92,270.10 170.67,266.93 171.30,266.60 C171.93,266.27 172.38,268.10 173.00,270.60 C173.62,273.10 174.33,278.85 175.00,281.60 C175.67,284.35 176.25,285.93 177.00,287.10 C177.75,288.27 179.08,288.35 179.50,288.60" fill="none" stroke="#36568a" stroke-width="0.8"/>
<line x1="149.50" y1="300.50" x2="208.50" y2="300.50" stroke="#8c8c9c" stroke-width="1" />
<path d="M162.50,300.50 C162.83,300.33 163.80,300.33 164.50,299.50 C165.20,298.67 165.92,298.00 166.70,295.50 C167.48,293.00 168.40,287.67 169.20,284.50 C170.00,281.33 170.78,276.83 171.50,276.50 C172.22,276.17 172.83,279.33 173.50,282.50 C174.17,285.67 174.92,292.67 175.50,295.50 C176.08,298.33 176.42,298.67 177.00,299.50 C177.58,300.33 178.67,300.33 179.00,300.50 L179.00,300.50 L162.50,300.50 Z" fill="#80809a" fill-opacity="0.66" stroke="none"/>
<path d="M162.50,300.50 C162.83,300.33 163.80,300.33 164.50,299.50 C165.20,298.67 165.92,298.00 166.70,295.50 C167.48,293.00 168.40,287.67 169.20,284.50 C170.00,281.33 170.78,276.83 171.50,276.50 C172.22,276.17 172.83,279.33 173.50,282.50 C174.17,285.67 174.92,292.67 175.50,295.50 C176.08,298.33 176.42,298.67 177.00,299.50 C177.58,300.33 178.67,300.33 179.00,300.50" fill="none" stroke="#404052" stroke-width="0.8"/>
</g>
<rect x="149.50" y="241.50" width="59.00" height="59.00" fill="none" stroke="#555" stroke-width="1"/>
<line x1="157.20" y1="300.50" x2="157.20" y2="303.30" stroke="#111" stroke-width="1.2" />
<line x1="161.69" y1="300.50" x2="161.69" y2="302.50" stroke="#222" stroke-width="0.9" />
<line x1="164.31" y1="300.50" x2="164.31" y2="302.50" stroke="#222" stroke-width="0.9" />
<line x1="166.17" y1="300.50" x2="166.17" y2="302.50" stroke="#222" stroke-width="0.9" />
<line x1="167.61" y1="300.50" x2="167.61" y2="302.50" stroke="#222" stroke-width="0.9" />
<line x1="168.79" y1="300.50" x2="168.79" y2="302.50" stroke="#222" stroke-width="0.9" />
<line x1="169.79" y1="300.50" x2="169.79" y2="302.50" stroke="#222" stroke-width="0.9" />
<line x1="170.66" y1="300.50" x2="170.66" y2="302.50" stroke="#222" stroke-width="0.9" />
<line x1="171.42" y1="300.50" x2="171.42" y2="302.50" stroke="#222" stroke-width="0.9" />
<line x1="151.27" y1="300.50" x2="151.27" y2="302.50" stroke="#222" stroke-width="0.9" />
<line x1="152.71" y1="300.50" x2="152.71" y2="302.50" stroke="#222" stroke-width="0.9" />
<line x1="153.89" y1="300.50" x2="153.89" y2="302.50" stroke="#222" stroke-width="0.9" />
<line x1="154.89" y1="300.50" x2="154.89" y2="302.50" stroke="#222" stroke-width="0.9" />
<line x1="155.76" y1="300.50" x2="155.76" y2="302.50" stroke="#222" stroke-width="0.9" />
<line x1="156.52" y1="300.50" x2="156.52" y2="302.50" stroke="#222" stroke-width="0.9" />
<text x="156.20" y="312.50" font-size="7.6" fill="#2b2b2b" text-anchor="middle" textLength="6.4" lengthAdjust="spacingAndGlyphs" >10</text>
<text x="159.50" y="308.90" font-size="4.6" fill="#2b2b2b" textLength="1.8" lengthAdjust="spacingAndGlyphs" >1</text>
<line x1="172.10" y1="300.50" x2="172.10" y2="303.30" stroke="#111" stroke-width="1.2" />
<line x1="176.59" y1="300.50" x2="176.59" y2="302.50" stroke="#222" stroke-width="0.9" />
<line x1="179.21" y1="300.50" x2="179.21" y2="302.50" stroke="#222" stroke-width="0.9" />
<line x1="181.07" y1="300.50" x2="181.07" y2="302.50" stroke="#222" stroke-width="0.9" />
<line x1="182.51" y1="300.50" x2="182.51" y2="302.50" stroke="#222" stroke-width="0.9" />
<line x1="183.69" y1="300.50" x2="183.69" y2="302.50" stroke="#222" stroke-width="0.9" />
<line x1="184.69" y1="300.50" x2="184.69" y2="302.50" stroke="#222" stroke-width="0.9" />
<line x1="185.56" y1="300.50" x2="185.56" y2="302.50" stroke="#222" stroke-width="0.9" />
<line x1="186.32" y1="300.50" x2="186.32" y2="302.50" stroke="#222" stroke-width="0.9" />
<text x="171.10" y="312.50" font-size="7.6" fill="#2b2b2b" text-anchor="middle" textLength="6.4" lengthAdjust="spacingAndGlyphs" >10</text>
<text x="174.40" y="308.90" font-size="4.6" fill="#2b2b2b" textLength="1.8" lengthAdjust="spacingAndGlyphs" >2</text>
<line x1="187.00" y1="300.50" x2="187.00" y2="303.30" stroke="#111" stroke-width="1.2" />
<line x1="191.49" y1="300.50" x2="191.49" y2="302.50" stroke="#222" stroke-width="0.9" />
<line x1="194.11" y1="300.50" x2="194.11" y2="302.50" stroke="#222" stroke-width="0.9" />
<line x1="195.97" y1="300.50" x2="195.97" y2="302.50" stroke="#222" stroke-width="0.9" />
<line x1="197.41" y1="300.50" x2="197.41" y2="302.50" stroke="#222" stroke-width="0.9" />
<line x1="198.59" y1="300.50" x2="198.59" y2="302.50" stroke="#222" stroke-width="0.9" />
<line x1="199.59" y1="300.50" x2="199.59" y2="302.50" stroke="#222" stroke-width="0.9" />
<line x1="200.46" y1="300.50" x2="200.46" y2="302.50" stroke="#222" stroke-width="0.9" />
<line x1="201.22" y1="300.50" x2="201.22" y2="302.50" stroke="#222" stroke-width="0.9" />
<text x="186.00" y="312.50" font-size="7.6" fill="#2b2b2b" text-anchor="middle" textLength="6.4" lengthAdjust="spacingAndGlyphs" >10</text>
<text x="189.30" y="308.90" font-size="4.6" fill="#2b2b2b" textLength="1.8" lengthAdjust="spacingAndGlyphs" >3</text>
<line x1="201.90" y1="300.50" x2="201.90" y2="303.30" stroke="#111" stroke-width="1.2" />
<text x="200.90" y="312.50" font-size="7.6" fill="#2b2b2b" text-anchor="middle" textLength="6.4" lengthAdjust="spacingAndGlyphs" >10</text>
<text x="204.20" y="308.90" font-size="4.6" fill="#2b2b2b" textLength="1.8" lengthAdjust="spacingAndGlyphs" >4</text>
<text x="178.50" y="234.70" font-size="9.0" fill="#2b2b2b" text-anchor="middle" textLength="32.7" lengthAdjust="spacingAndGlyphs" >DOHH2</text>
<text x="212.00" y="263.50" font-size="7.6" fill="#2b2b2b" textLength="15.0" lengthAdjust="spacingAndGlyphs">PFI-1</text>
<text x="212.00" y="275.70" font-size="7.6" fill="#2b2b2b" textLength="23.4" lengthAdjust="spacingAndGlyphs">Solvent</text>
<text x="212.00" y="287.40" font-size="7.6" fill="#2b2b2b" textLength="15.0" lengthAdjust="spacingAndGlyphs">PFI-1</text>
<text x="212.00" y="299.50" font-size="7.6" fill="#2b2b2b" textLength="23.4" lengthAdjust="spacingAndGlyphs">Solvent</text>
<line x1="241.70" y1="258.90" x2="241.70" y2="276.50" stroke="#333" stroke-width="1.2" />
<line x1="241.70" y1="282.40" x2="241.70" y2="300.30" stroke="#333" stroke-width="1.2" />
<text x="245.90" y="271.00" font-size="7.6" fill="#2b2b2b" textLength="15" lengthAdjust="spacingAndGlyphs" >DMF</text>
<text x="245.90" y="294.20" font-size="7.6" fill="#2b2b2b" textLength="14" lengthAdjust="spacingAndGlyphs" >Solv.</text>
<clipPath id="c267_241"><rect x="267.5" y="241.5" width="59.0" height="59.0"/></clipPath>
<g clip-path="url(#c267_241)">
<line x1="267.50" y1="265.20" x2="326.50" y2="265.20" stroke="#f2e2b8" stroke-width="1" />
<path d="M285.50,265.20 C285.92,265.07 287.17,264.98 288.00,264.40 C288.83,263.82 289.68,262.40 290.50,261.70 C291.32,261.00 292.15,260.28 292.90,260.20 C293.65,260.12 294.18,260.75 295.00,261.20 C295.82,261.65 296.97,262.90 297.80,262.90 C298.63,262.90 299.22,262.23 300.00,261.20 C300.78,260.17 301.70,257.88 302.50,256.70 C303.30,255.52 304.05,254.27 304.80,254.10 C305.55,253.93 306.30,254.77 307.00,255.70 C307.70,256.63 308.33,258.45 309.00,259.70 C309.67,260.95 310.33,262.33 311.00,263.20 C311.67,264.07 312.42,264.57 313.00,264.90 C313.58,265.23 314.25,265.15 314.50,265.20 L314.50,265.20 L285.50,265.20 Z" fill="#f9c275" fill-opacity="0.62" stroke="none"/>
<path d="M285.50,265.20 C285.92,265.07 287.17,264.98 288.00,264.40 C288.83,263.82 289.68,262.40 290.50,261.70 C291.32,261.00 292.15,260.28 292.90,260.20 C293.65,260.12 294.18,260.75 295.00,261.20 C295.82,261.65 296.97,262.90 297.80,262.90 C298.63,262.90 299.22,262.23 300.00,261.20 C300.78,260.17 301.70,257.88 302.50,256.70 C303.30,255.52 304.05,254.27 304.80,254.10 C305.55,253.93 306.30,254.77 307.00,255.70 C307.70,256.63 308.33,258.45 309.00,259.70 C309.67,260.95 310.33,262.33 311.00,263.20 C311.67,264.07 312.42,264.57 313.00,264.90 C313.58,265.23 314.25,265.15 314.50,265.20" fill="none" stroke="#d99c42" stroke-width="0.8"/>
<line x1="267.50" y1="276.90" x2="326.50" y2="276.90" stroke="#e6adb8" stroke-width="1" />
<path d="M279.50,276.90 C279.90,276.77 281.07,276.52 281.90,276.10 C282.73,275.68 283.65,275.35 284.50,274.40 C285.35,273.45 286.13,272.05 287.00,270.40 C287.87,268.75 288.95,265.08 289.70,264.50 C290.45,263.92 290.87,266.00 291.50,266.90 C292.13,267.80 292.83,269.23 293.50,269.90 C294.17,270.57 294.73,270.78 295.50,270.90 C296.27,271.02 297.27,270.52 298.10,270.60 C298.93,270.68 299.68,270.93 300.50,271.40 C301.32,271.87 302.17,272.73 303.00,273.40 C303.83,274.07 304.75,274.87 305.50,275.40 C306.25,275.93 306.83,276.35 307.50,276.60 C308.17,276.85 309.17,276.85 309.50,276.90 L309.50,276.90 L279.50,276.90 Z" fill="#e3535b" fill-opacity="0.58" stroke="none"/>
<path d="M279.50,276.90 C279.90,276.77 281.07,276.52 281.90,276.10 C282.73,275.68 283.65,275.35 284.50,274.40 C285.35,273.45 286.13,272.05 287.00,270.40 C287.87,268.75 288.95,265.08 289.70,264.50 C290.45,263.92 290.87,266.00 291.50,266.90 C292.13,267.80 292.83,269.23 293.50,269.90 C294.17,270.57 294.73,270.78 295.50,270.90 C296.27,271.02 297.27,270.52 298.10,270.60 C298.93,270.68 299.68,270.93 300.50,271.40 C301.32,271.87 302.17,272.73 303.00,273.40 C303.83,274.07 304.75,274.87 305.50,275.40 C306.25,275.93 306.83,276.35 307.50,276.60 C308.17,276.85 309.17,276.85 309.50,276.90" fill="none" stroke="#a32a3c" stroke-width="0.8"/>
<line x1="267.50" y1="288.60" x2="326.50" y2="288.60" stroke="#aebdd6" stroke-width="1" />
<path d="M274.50,288.60 C274.83,288.52 275.67,288.43 276.50,288.10 C277.33,287.77 278.50,287.35 279.50,286.60 C280.50,285.85 281.50,285.43 282.50,283.60 C283.50,281.77 284.58,278.27 285.50,275.60 C286.42,272.93 287.25,268.43 288.00,267.60 C288.75,266.77 289.33,268.43 290.00,270.60 C290.67,272.77 291.33,277.93 292.00,280.60 C292.67,283.27 293.25,285.27 294.00,286.60 C294.75,287.93 296.08,288.27 296.50,288.60 L296.50,288.60 L274.50,288.60 Z" fill="#6486c0" fill-opacity="0.58" stroke="none"/>
<path d="M274.50,288.60 C274.83,288.52 275.67,288.43 276.50,288.10 C277.33,287.77 278.50,287.35 279.50,286.60 C280.50,285.85 281.50,285.43 282.50,283.60 C283.50,281.77 284.58,278.27 285.50,275.60 C286.42,272.93 287.25,268.43 288.00,267.60 C288.75,266.77 289.33,268.43 290.00,270.60 C290.67,272.77 291.33,277.93 292.00,280.60 C292.67,283.27 293.25,285.27 294.00,286.60 C294.75,287.93 296.08,288.27 296.50,288.60" fill="none" stroke="#36568a" stroke-width="0.8"/>
<line x1="267.50" y1="300.50" x2="326.50" y2="300.50" stroke="#8c8c9c" stroke-width="1" />
<path d="M277.50,300.50 C277.78,300.37 278.45,300.37 279.20,299.70 C279.95,299.03 281.03,298.37 282.00,296.50 C282.97,294.63 284.00,291.50 285.00,288.50 C286.00,285.50 287.17,279.50 288.00,278.50 C288.83,277.50 289.33,280.00 290.00,282.50 C290.67,285.00 291.33,290.75 292.00,293.50 C292.67,296.25 293.33,297.83 294.00,299.00 C294.67,300.17 295.67,300.25 296.00,300.50 L296.00,300.50 L277.50,300.50 Z" fill="#80809a" fill-opacity="0.66" stroke="none"/>
<path d="M277.50,300.50 C277.78,300.37 278.45,300.37 279.20,299.70 C279.95,299.03 281.03,298.37 282.00,296.50 C282.97,294.63 284.00,291.50 285.00,288.50 C286.00,285.50 287.17,279.50 288.00,278.50 C288.83,277.50 289.33,280.00 290.00,282.50 C290.67,285.00 291.33,290.75 292.00,293.50 C292.67,296.25 293.33,297.83 294.00,299.00 C294.67,300.17 295.67,300.25 296.00,300.50" fill="none" stroke="#404052" stroke-width="0.8"/>
</g>
<rect x="267.50" y="241.50" width="59.00" height="59.00" fill="none" stroke="#555" stroke-width="1"/>
<line x1="275.20" y1="300.50" x2="275.20" y2="303.30" stroke="#111" stroke-width="1.2" />
<line x1="279.69" y1="300.50" x2="279.69" y2="302.50" stroke="#222" stroke-width="0.9" />
<line x1="282.31" y1="300.50" x2="282.31" y2="302.50" stroke="#222" stroke-width="0.9" />
<line x1="284.17" y1="300.50" x2="284.17" y2="302.50" stroke="#222" stroke-width="0.9" />
<line x1="285.61" y1="300.50" x2="285.61" y2="302.50" stroke="#222" stroke-width="0.9" />
<line x1="286.79" y1="300.50" x2="286.79" y2="302.50" stroke="#222" stroke-width="0.9" />
<line x1="287.79" y1="300.50" x2="287.79" y2="302.50" stroke="#222" stroke-width="0.9" />
<line x1="288.66" y1="300.50" x2="288.66" y2="302.50" stroke="#222" stroke-width="0.9" />
<line x1="289.42" y1="300.50" x2="289.42" y2="302.50" stroke="#222" stroke-width="0.9" />
<line x1="269.27" y1="300.50" x2="269.27" y2="302.50" stroke="#222" stroke-width="0.9" />
<line x1="270.71" y1="300.50" x2="270.71" y2="302.50" stroke="#222" stroke-width="0.9" />
<line x1="271.89" y1="300.50" x2="271.89" y2="302.50" stroke="#222" stroke-width="0.9" />
<line x1="272.89" y1="300.50" x2="272.89" y2="302.50" stroke="#222" stroke-width="0.9" />
<line x1="273.76" y1="300.50" x2="273.76" y2="302.50" stroke="#222" stroke-width="0.9" />
<line x1="274.52" y1="300.50" x2="274.52" y2="302.50" stroke="#222" stroke-width="0.9" />
<text x="274.20" y="312.50" font-size="7.6" fill="#2b2b2b" text-anchor="middle" textLength="6.4" lengthAdjust="spacingAndGlyphs" >10</text>
<text x="277.50" y="308.90" font-size="4.6" fill="#2b2b2b" textLength="1.8" lengthAdjust="spacingAndGlyphs" >1</text>
<line x1="290.10" y1="300.50" x2="290.10" y2="303.30" stroke="#111" stroke-width="1.2" />
<line x1="294.59" y1="300.50" x2="294.59" y2="302.50" stroke="#222" stroke-width="0.9" />
<line x1="297.21" y1="300.50" x2="297.21" y2="302.50" stroke="#222" stroke-width="0.9" />
<line x1="299.07" y1="300.50" x2="299.07" y2="302.50" stroke="#222" stroke-width="0.9" />
<line x1="300.51" y1="300.50" x2="300.51" y2="302.50" stroke="#222" stroke-width="0.9" />
<line x1="301.69" y1="300.50" x2="301.69" y2="302.50" stroke="#222" stroke-width="0.9" />
<line x1="302.69" y1="300.50" x2="302.69" y2="302.50" stroke="#222" stroke-width="0.9" />
<line x1="303.56" y1="300.50" x2="303.56" y2="302.50" stroke="#222" stroke-width="0.9" />
<line x1="304.32" y1="300.50" x2="304.32" y2="302.50" stroke="#222" stroke-width="0.9" />
<text x="289.10" y="312.50" font-size="7.6" fill="#2b2b2b" text-anchor="middle" textLength="6.4" lengthAdjust="spacingAndGlyphs" >10</text>
<text x="292.40" y="308.90" font-size="4.6" fill="#2b2b2b" textLength="1.8" lengthAdjust="spacingAndGlyphs" >2</text>
<line x1="305.00" y1="300.50" x2="305.00" y2="303.30" stroke="#111" stroke-width="1.2" />
<line x1="309.49" y1="300.50" x2="309.49" y2="302.50" stroke="#222" stroke-width="0.9" />
<line x1="312.11" y1="300.50" x2="312.11" y2="302.50" stroke="#222" stroke-width="0.9" />
<line x1="313.97" y1="300.50" x2="313.97" y2="302.50" stroke="#222" stroke-width="0.9" />
<line x1="315.41" y1="300.50" x2="315.41" y2="302.50" stroke="#222" stroke-width="0.9" />
<line x1="316.59" y1="300.50" x2="316.59" y2="302.50" stroke="#222" stroke-width="0.9" />
<line x1="317.59" y1="300.50" x2="317.59" y2="302.50" stroke="#222" stroke-width="0.9" />
<line x1="318.46" y1="300.50" x2="318.46" y2="302.50" stroke="#222" stroke-width="0.9" />
<line x1="319.22" y1="300.50" x2="319.22" y2="302.50" stroke="#222" stroke-width="0.9" />
<text x="304.00" y="312.50" font-size="7.6" fill="#2b2b2b" text-anchor="middle" textLength="6.4" lengthAdjust="spacingAndGlyphs" >10</text>
<text x="307.30" y="308.90" font-size="4.6" fill="#2b2b2b" textLength="1.8" lengthAdjust="spacingAndGlyphs" >3</text>
<line x1="319.90" y1="300.50" x2="319.90" y2="303.30" stroke="#111" stroke-width="1.2" />
<text x="318.90" y="312.50" font-size="7.6" fill="#2b2b2b" text-anchor="middle" textLength="6.4" lengthAdjust="spacingAndGlyphs" >10</text>
<text x="322.20" y="308.90" font-size="4.6" fill="#2b2b2b" textLength="1.8" lengthAdjust="spacingAndGlyphs" >4</text>
<text x="296.50" y="234.70" font-size="9.0" fill="#2b2b2b" text-anchor="middle" textLength="32.7" lengthAdjust="spacingAndGlyphs" >DOHH2</text>
<text x="330.00" y="263.50" font-size="7.6" fill="#2b2b2b" textLength="27.7" lengthAdjust="spacingAndGlyphs">I-BET151</text>
<text x="330.00" y="275.70" font-size="7.6" fill="#2b2b2b" textLength="23.4" lengthAdjust="spacingAndGlyphs">Solvent</text>
<text x="330.00" y="287.40" font-size="7.6" fill="#2b2b2b" textLength="27.7" lengthAdjust="spacingAndGlyphs">I-BET151</text>
<text x="330.00" y="299.50" font-size="7.6" fill="#2b2b2b" textLength="23.4" lengthAdjust="spacingAndGlyphs">Solvent</text>
<line x1="365.10" y1="258.90" x2="365.10" y2="276.50" stroke="#333" stroke-width="1.2" />
<line x1="365.10" y1="282.40" x2="365.10" y2="300.30" stroke="#333" stroke-width="1.2" />
<text x="369.30" y="271.00" font-size="7.6" fill="#2b2b2b" textLength="15" lengthAdjust="spacingAndGlyphs" >DMF</text>
<text x="369.30" y="294.20" font-size="7.6" fill="#2b2b2b" textLength="14" lengthAdjust="spacingAndGlyphs" >Solv.</text>
<clipPath id="c390_241"><rect x="390.5" y="241.5" width="59.0" height="59.0"/></clipPath>
<g clip-path="url(#c390_241)">
<line x1="390.50" y1="265.20" x2="449.50" y2="265.20" stroke="#f2e2b8" stroke-width="1" />
<path d="M408.50,265.20 C408.83,265.03 409.75,265.12 410.50,264.20 C411.25,263.28 412.25,261.12 413.00,259.70 C413.75,258.28 414.48,256.48 415.00,255.70 C415.52,254.92 415.68,254.92 416.10,255.00 C416.52,255.08 416.93,255.42 417.50,256.20 C418.07,256.98 418.92,258.82 419.50,259.70 C420.08,260.58 420.42,261.42 421.00,261.50 C421.58,261.58 422.17,260.92 423.00,260.20 C423.83,259.48 425.13,257.83 426.00,257.20 C426.87,256.57 427.53,256.40 428.20,256.40 C428.87,256.40 429.37,256.48 430.00,257.20 C430.63,257.92 431.33,259.62 432.00,260.70 C432.67,261.78 433.25,262.95 434.00,263.70 C434.75,264.45 436.08,264.95 436.50,265.20 L436.50,265.20 L408.50,265.20 Z" fill="#f9c275" fill-opacity="0.62" stroke="none"/>
<path d="M408.50,265.20 C408.83,265.03 409.75,265.12 410.50,264.20 C411.25,263.28 412.25,261.12 413.00,259.70 C413.75,258.28 414.48,256.48 415.00,255.70 C415.52,254.92 415.68,254.92 416.10,255.00 C416.52,255.08 416.93,255.42 417.50,256.20 C418.07,256.98 418.92,258.82 419.50,259.70 C420.08,260.58 420.42,261.42 421.00,261.50 C421.58,261.58 422.17,260.92 423.00,260.20 C423.83,259.48 425.13,257.83 426.00,257.20 C426.87,256.57 427.53,256.40 428.20,256.40 C428.87,256.40 429.37,256.48 430.00,257.20 C430.63,257.92 431.33,259.62 432.00,260.70 C432.67,261.78 433.25,262.95 434.00,263.70 C434.75,264.45 436.08,264.95 436.50,265.20" fill="none" stroke="#d99c42" stroke-width="0.8"/>
<line x1="390.50" y1="276.90" x2="449.50" y2="276.90" stroke="#e6adb8" stroke-width="1" />
<path d="M404.50,276.90 C405.00,276.82 406.58,276.73 407.50,276.40 C408.42,276.07 409.25,276.48 410.00,274.90 C410.75,273.32 411.37,269.87 412.00,266.90 C412.63,263.93 413.25,257.93 413.80,257.10 C414.35,256.27 414.82,259.43 415.30,261.90 C415.78,264.37 416.25,269.73 416.70,271.90 C417.15,274.07 417.37,274.32 418.00,274.90 C418.63,275.48 419.37,275.40 420.50,275.40 C421.63,275.40 423.47,274.90 424.80,274.90 C426.13,274.90 427.22,275.13 428.50,275.40 C429.78,275.67 431.33,276.25 432.50,276.50 C433.67,276.75 435.00,276.83 435.50,276.90 L435.50,276.90 L404.50,276.90 Z" fill="#e3535b" fill-opacity="0.58" stroke="none"/>
<path d="M404.50,276.90 C405.00,276.82 406.58,276.73 407.50,276.40 C408.42,276.07 409.25,276.48 410.00,274.90 C410.75,273.32 411.37,269.87 412.00,266.90 C412.63,263.93 413.25,257.93 413.80,257.10 C414.35,256.27 414.82,259.43 415.30,261.90 C415.78,264.37 416.25,269.73 416.70,271.90 C417.15,274.07 417.37,274.32 418.00,274.90 C418.63,275.48 419.37,275.40 420.50,275.40 C421.63,275.40 423.47,274.90 424.80,274.90 C426.13,274.90 427.22,275.13 428.50,275.40 C429.78,275.67 431.33,276.25 432.50,276.50 C433.67,276.75 435.00,276.83 435.50,276.90" fill="none" stroke="#a32a3c" stroke-width="0.8"/>
<line x1="390.50" y1="288.60" x2="449.50" y2="288.60" stroke="#aebdd6" stroke-width="1" />
<path d="M401.50,288.60 C401.83,288.50 402.80,288.42 403.50,288.00 C404.20,287.58 404.95,287.17 405.70,286.10 C406.45,285.03 407.25,283.85 408.00,281.60 C408.75,279.35 409.48,275.10 410.20,272.60 C410.92,270.10 411.67,266.93 412.30,266.60 C412.93,266.27 413.38,268.10 414.00,270.60 C414.62,273.10 415.33,278.85 416.00,281.60 C416.67,284.35 417.25,285.93 418.00,287.10 C418.75,288.27 420.08,288.35 420.50,288.60 L420.50,288.60 L401.50,288.60 Z" fill="#6486c0" fill-opacity="0.58" stroke="none"/>
<path d="M401.50,288.60 C401.83,288.50 402.80,288.42 403.50,288.00 C404.20,287.58 404.95,287.17 405.70,286.10 C406.45,285.03 407.25,283.85 408.00,281.60 C408.75,279.35 409.48,275.10 410.20,272.60 C410.92,270.10 411.67,266.93 412.30,266.60 C412.93,266.27 413.38,268.10 414.00,270.60 C414.62,273.10 415.33,278.85 416.00,281.60 C416.67,284.35 417.25,285.93 418.00,287.10 C418.75,288.27 420.08,288.35 420.50,288.60" fill="none" stroke="#36568a" stroke-width="0.8"/>
<line x1="390.50" y1="300.50" x2="449.50" y2="300.50" stroke="#8c8c9c" stroke-width="1" />
<path d="M403.50,300.50 C403.83,300.33 404.80,300.33 405.50,299.50 C406.20,298.67 406.92,298.00 407.70,295.50 C408.48,293.00 409.40,287.67 410.20,284.50 C411.00,281.33 411.78,276.83 412.50,276.50 C413.22,276.17 413.83,279.33 414.50,282.50 C415.17,285.67 415.92,292.67 416.50,295.50 C417.08,298.33 417.42,298.67 418.00,299.50 C418.58,300.33 419.67,300.33 420.00,300.50 L420.00,300.50 L403.50,300.50 Z" fill="#80809a" fill-opacity="0.66" stroke="none"/>
<path d="M403.50,300.50 C403.83,300.33 404.80,300.33 405.50,299.50 C406.20,298.67 406.92,298.00 407.70,295.50 C408.48,293.00 409.40,287.67 410.20,284.50 C411.00,281.33 411.78,276.83 412.50,276.50 C413.22,276.17 413.83,279.33 414.50,282.50 C415.17,285.67 415.92,292.67 416.50,295.50 C417.08,298.33 417.42,298.67 418.00,299.50 C418.58,300.33 419.67,300.33 420.00,300.50" fill="none" stroke="#404052" stroke-width="0.8"/>
</g>
<rect x="390.50" y="241.50" width="59.00" height="59.00" fill="none" stroke="#555" stroke-width="1"/>
<line x1="398.20" y1="300.50" x2="398.20" y2="303.30" stroke="#111" stroke-width="1.2" />
<line x1="402.69" y1="300.50" x2="402.69" y2="302.50" stroke="#222" stroke-width="0.9" />
<line x1="405.31" y1="300.50" x2="405.31" y2="302.50" stroke="#222" stroke-width="0.9" />
<line x1="407.17" y1="300.50" x2="407.17" y2="302.50" stroke="#222" stroke-width="0.9" />
<line x1="408.61" y1="300.50" x2="408.61" y2="302.50" stroke="#222" stroke-width="0.9" />
<line x1="409.79" y1="300.50" x2="409.79" y2="302.50" stroke="#222" stroke-width="0.9" />
<line x1="410.79" y1="300.50" x2="410.79" y2="302.50" stroke="#222" stroke-width="0.9" />
<line x1="411.66" y1="300.50" x2="411.66" y2="302.50" stroke="#222" stroke-width="0.9" />
<line x1="412.42" y1="300.50" x2="412.42" y2="302.50" stroke="#222" stroke-width="0.9" />
<line x1="392.27" y1="300.50" x2="392.27" y2="302.50" stroke="#222" stroke-width="0.9" />
<line x1="393.71" y1="300.50" x2="393.71" y2="302.50" stroke="#222" stroke-width="0.9" />
<line x1="394.89" y1="300.50" x2="394.89" y2="302.50" stroke="#222" stroke-width="0.9" />
<line x1="395.89" y1="300.50" x2="395.89" y2="302.50" stroke="#222" stroke-width="0.9" />
<line x1="396.76" y1="300.50" x2="396.76" y2="302.50" stroke="#222" stroke-width="0.9" />
<line x1="397.52" y1="300.50" x2="397.52" y2="302.50" stroke="#222" stroke-width="0.9" />
<text x="397.20" y="312.50" font-size="7.6" fill="#2b2b2b" text-anchor="middle" textLength="6.4" lengthAdjust="spacingAndGlyphs" >10</text>
<text x="400.50" y="308.90" font-size="4.6" fill="#2b2b2b" textLength="1.8" lengthAdjust="spacingAndGlyphs" >1</text>
<line x1="413.10" y1="300.50" x2="413.10" y2="303.30" stroke="#111" stroke-width="1.2" />
<line x1="417.59" y1="300.50" x2="417.59" y2="302.50" stroke="#222" stroke-width="0.9" />
<line x1="420.21" y1="300.50" x2="420.21" y2="302.50" stroke="#222" stroke-width="0.9" />
<line x1="422.07" y1="300.50" x2="422.07" y2="302.50" stroke="#222" stroke-width="0.9" />
<line x1="423.51" y1="300.50" x2="423.51" y2="302.50" stroke="#222" stroke-width="0.9" />
<line x1="424.69" y1="300.50" x2="424.69" y2="302.50" stroke="#222" stroke-width="0.9" />
<line x1="425.69" y1="300.50" x2="425.69" y2="302.50" stroke="#222" stroke-width="0.9" />
<line x1="426.56" y1="300.50" x2="426.56" y2="302.50" stroke="#222" stroke-width="0.9" />
<line x1="427.32" y1="300.50" x2="427.32" y2="302.50" stroke="#222" stroke-width="0.9" />
<text x="412.10" y="312.50" font-size="7.6" fill="#2b2b2b" text-anchor="middle" textLength="6.4" lengthAdjust="spacingAndGlyphs" >10</text>
<text x="415.40" y="308.90" font-size="4.6" fill="#2b2b2b" textLength="1.8" lengthAdjust="spacingAndGlyphs" >2</text>
<line x1="428.00" y1="300.50" x2="428.00" y2="303.30" stroke="#111" stroke-width="1.2" />
<line x1="432.49" y1="300.50" x2="432.49" y2="302.50" stroke="#222" stroke-width="0.9" />
<line x1="435.11" y1="300.50" x2="435.11" y2="302.50" stroke="#222" stroke-width="0.9" />
<line x1="436.97" y1="300.50" x2="436.97" y2="302.50" stroke="#222" stroke-width="0.9" />
<line x1="438.41" y1="300.50" x2="438.41" y2="302.50" stroke="#222" stroke-width="0.9" />
<line x1="439.59" y1="300.50" x2="439.59" y2="302.50" stroke="#222" stroke-width="0.9" />
<line x1="440.59" y1="300.50" x2="440.59" y2="302.50" stroke="#222" stroke-width="0.9" />
<line x1="441.46" y1="300.50" x2="441.46" y2="302.50" stroke="#222" stroke-width="0.9" />
<line x1="442.22" y1="300.50" x2="442.22" y2="302.50" stroke="#222" stroke-width="0.9" />
<text x="427.00" y="312.50" font-size="7.6" fill="#2b2b2b" text-anchor="middle" textLength="6.4" lengthAdjust="spacingAndGlyphs" >10</text>
<text x="430.30" y="308.90" font-size="4.6" fill="#2b2b2b" textLength="1.8" lengthAdjust="spacingAndGlyphs" >3</text>
<line x1="442.90" y1="300.50" x2="442.90" y2="303.30" stroke="#111" stroke-width="1.2" />
<text x="441.90" y="312.50" font-size="7.6" fill="#2b2b2b" text-anchor="middle" textLength="6.4" lengthAdjust="spacingAndGlyphs" >10</text>
<text x="445.20" y="308.90" font-size="4.6" fill="#2b2b2b" textLength="1.8" lengthAdjust="spacingAndGlyphs" >4</text>
<text x="419.50" y="234.70" font-size="9.0" fill="#2b2b2b" text-anchor="middle" textLength="32.7" lengthAdjust="spacingAndGlyphs" >DOHH2</text>
<text x="453.00" y="263.50" font-size="7.6" fill="#2b2b2b" textLength="28.5" lengthAdjust="spacingAndGlyphs">I-BET762</text>
<text x="453.00" y="275.70" font-size="7.6" fill="#2b2b2b" textLength="23.4" lengthAdjust="spacingAndGlyphs">Solvent</text>
<text x="453.00" y="287.40" font-size="7.6" fill="#2b2b2b" textLength="28.5" lengthAdjust="spacingAndGlyphs">I-BET762</text>
<text x="453.00" y="299.50" font-size="7.6" fill="#2b2b2b" textLength="23.4" lengthAdjust="spacingAndGlyphs">Solvent</text>
<line x1="489.40" y1="258.90" x2="489.40" y2="276.50" stroke="#333" stroke-width="1.2" />
<line x1="489.40" y1="282.40" x2="489.40" y2="300.30" stroke="#333" stroke-width="1.2" />
<text x="493.60" y="271.00" font-size="7.6" fill="#2b2b2b" textLength="15" lengthAdjust="spacingAndGlyphs" >DMF</text>
<text x="493.60" y="294.20" font-size="7.6" fill="#2b2b2b" textLength="14" lengthAdjust="spacingAndGlyphs" >Solv.</text>
<text x="28.70" y="273.50" font-size="9.8" fill="#2b2b2b" text-anchor="middle" textLength="21" lengthAdjust="spacingAndGlyphs" transform="rotate(-90 28.70 273.50)" >Count</text>
<line x1="31.00" y1="317.90" x2="85.60" y2="317.90" stroke="#111" stroke-width="1.2" />
<polygon points="85.10,315.80 85.10,320.00 89.60,317.90" fill="#111"/>
<text x="62.10" y="329.50" font-size="10.5" fill="#2b2b2b" text-anchor="middle" textLength="39" lengthAdjust="spacingAndGlyphs" >BODIPY C11</text>
<clipPath id="c31_369"><rect x="31.5" y="369.5" width="59.0" height="59.0"/></clipPath>
<g clip-path="url(#c31_369)">
<line x1="31.50" y1="393.20" x2="90.50" y2="393.20" stroke="#f2e2b8" stroke-width="1" />
<path d="M49.50,393.20 C49.80,393.12 50.55,393.20 51.30,392.70 C52.05,392.20 53.13,391.20 54.00,390.20 C54.87,389.20 55.78,387.55 56.50,386.70 C57.22,385.85 57.72,385.18 58.30,385.10 C58.88,385.02 59.27,385.53 60.00,386.20 C60.73,386.87 61.87,388.93 62.70,389.10 C63.53,389.27 64.25,387.82 65.00,387.20 C65.75,386.58 66.45,385.57 67.20,385.40 C67.95,385.23 68.70,385.57 69.50,386.20 C70.30,386.83 71.25,388.28 72.00,389.20 C72.75,390.12 73.33,391.07 74.00,391.70 C74.67,392.33 75.42,392.75 76.00,393.00 C76.58,393.25 77.25,393.17 77.50,393.20 L77.50,393.20 L49.50,393.20 Z" fill="#f9c275" fill-opacity="0.62" stroke="none"/>
<path d="M49.50,393.20 C49.80,393.12 50.55,393.20 51.30,392.70 C52.05,392.20 53.13,391.20 54.00,390.20 C54.87,389.20 55.78,387.55 56.50,386.70 C57.22,385.85 57.72,385.18 58.30,385.10 C58.88,385.02 59.27,385.53 60.00,386.20 C60.73,386.87 61.87,388.93 62.70,389.10 C63.53,389.27 64.25,387.82 65.00,387.20 C65.75,386.58 66.45,385.57 67.20,385.40 C67.95,385.23 68.70,385.57 69.50,386.20 C70.30,386.83 71.25,388.28 72.00,389.20 C72.75,390.12 73.33,391.07 74.00,391.70 C74.67,392.33 75.42,392.75 76.00,393.00 C76.58,393.25 77.25,393.17 77.50,393.20" fill="none" stroke="#d99c42" stroke-width="0.8"/>
<line x1="31.50" y1="404.90" x2="90.50" y2="404.90" stroke="#e6adb8" stroke-width="1" />
<path d="M48.50,404.90 C48.83,404.82 49.83,404.90 50.50,404.40 C51.17,403.90 52.00,402.98 52.50,401.90 C53.00,400.82 53.15,399.08 53.50,397.90 C53.85,396.72 54.18,395.13 54.60,394.80 C55.02,394.47 55.43,395.77 56.00,395.90 C56.57,396.03 57.42,395.43 58.00,395.60 C58.58,395.77 58.92,396.35 59.50,396.90 C60.08,397.45 60.63,398.35 61.50,398.90 C62.37,399.45 63.78,399.87 64.70,400.20 C65.62,400.53 66.20,400.53 67.00,400.90 C67.80,401.27 68.75,401.82 69.50,402.40 C70.25,402.98 70.83,403.98 71.50,404.40 C72.17,404.82 73.17,404.82 73.50,404.90 L73.50,404.90 L48.50,404.90 Z" fill="#e3535b" fill-opacity="0.58" stroke="none"/>
<path d="M48.50,404.90 C48.83,404.82 49.83,404.90 50.50,404.40 C51.17,403.90 52.00,402.98 52.50,401.90 C53.00,400.82 53.15,399.08 53.50,397.90 C53.85,396.72 54.18,395.13 54.60,394.80 C55.02,394.47 55.43,395.77 56.00,395.90 C56.57,396.03 57.42,395.43 58.00,395.60 C58.58,395.77 58.92,396.35 59.50,396.90 C60.08,397.45 60.63,398.35 61.50,398.90 C62.37,399.45 63.78,399.87 64.70,400.20 C65.62,400.53 66.20,400.53 67.00,400.90 C67.80,401.27 68.75,401.82 69.50,402.40 C70.25,402.98 70.83,403.98 71.50,404.40 C72.17,404.82 73.17,404.82 73.50,404.90" fill="none" stroke="#a32a3c" stroke-width="0.8"/>
<line x1="31.50" y1="416.60" x2="90.50" y2="416.60" stroke="#aebdd6" stroke-width="1" />
<path d="M45.50,416.60 C45.90,416.47 47.15,416.47 47.90,415.80 C48.65,415.13 49.32,414.80 50.00,412.60 C50.68,410.40 51.33,405.43 52.00,402.60 C52.67,399.77 53.33,395.77 54.00,395.60 C54.67,395.43 55.33,399.10 56.00,401.60 C56.67,404.10 57.33,408.35 58.00,410.60 C58.67,412.85 59.33,414.10 60.00,415.10 C60.67,416.10 61.67,416.35 62.00,416.60 L62.00,416.60 L45.50,416.60 Z" fill="#6486c0" fill-opacity="0.58" stroke="none"/>
<path d="M45.50,416.60 C45.90,416.47 47.15,416.47 47.90,415.80 C48.65,415.13 49.32,414.80 50.00,412.60 C50.68,410.40 51.33,405.43 52.00,402.60 C52.67,399.77 53.33,395.77 54.00,395.60 C54.67,395.43 55.33,399.10 56.00,401.60 C56.67,404.10 57.33,408.35 58.00,410.60 C58.67,412.85 59.33,414.10 60.00,415.10 C60.67,416.10 61.67,416.35 62.00,416.60" fill="none" stroke="#36568a" stroke-width="0.8"/>
<line x1="31.50" y1="428.50" x2="90.50" y2="428.50" stroke="#8c8c9c" stroke-width="1" />
<path d="M47.50,428.50 C47.80,428.33 48.72,428.33 49.30,427.50 C49.88,426.67 50.43,425.67 51.00,423.50 C51.57,421.33 52.17,417.00 52.70,414.50 C53.23,412.00 53.68,408.67 54.20,408.50 C54.72,408.33 55.25,411.17 55.80,413.50 C56.35,415.83 56.90,420.17 57.50,422.50 C58.10,424.83 58.73,426.50 59.40,427.50 C60.07,428.50 61.15,428.33 61.50,428.50 L61.50,428.50 L47.50,428.50 Z" fill="#80809a" fill-opacity="0.66" stroke="none"/>
<path d="M47.50,428.50 C47.80,428.33 48.72,428.33 49.30,427.50 C49.88,426.67 50.43,425.67 51.00,423.50 C51.57,421.33 52.17,417.00 52.70,414.50 C53.23,412.00 53.68,408.67 54.20,408.50 C54.72,408.33 55.25,411.17 55.80,413.50 C56.35,415.83 56.90,420.17 57.50,422.50 C58.10,424.83 58.73,426.50 59.40,427.50 C60.07,428.50 61.15,428.33 61.50,428.50" fill="none" stroke="#404052" stroke-width="0.8"/>
</g>
<rect x="31.50" y="369.50" width="59.00" height="59.00" fill="none" stroke="#555" stroke-width="1"/>
<line x1="31.80" y1="428.50" x2="31.80" y2="431.30" stroke="#111" stroke-width="1.2" />
<line x1="36.92" y1="428.50" x2="36.92" y2="430.50" stroke="#222" stroke-width="0.9" />
<line x1="39.91" y1="428.50" x2="39.91" y2="430.50" stroke="#222" stroke-width="0.9" />
<line x1="42.04" y1="428.50" x2="42.04" y2="430.50" stroke="#222" stroke-width="0.9" />
<line x1="43.68" y1="428.50" x2="43.68" y2="430.50" stroke="#222" stroke-width="0.9" />
<line x1="45.03" y1="428.50" x2="45.03" y2="430.50" stroke="#222" stroke-width="0.9" />
<line x1="46.17" y1="428.50" x2="46.17" y2="430.50" stroke="#222" stroke-width="0.9" />
<line x1="47.15" y1="428.50" x2="47.15" y2="430.50" stroke="#222" stroke-width="0.9" />
<line x1="48.02" y1="428.50" x2="48.02" y2="430.50" stroke="#222" stroke-width="0.9" />
<text x="30.80" y="440.80" font-size="7.6" fill="#2b2b2b" text-anchor="middle" textLength="6.4" lengthAdjust="spacingAndGlyphs" >10</text>
<text x="34.10" y="437.20" font-size="4.6" fill="#2b2b2b" textLength="1.8" lengthAdjust="spacingAndGlyphs" >1</text>
<line x1="48.80" y1="428.50" x2="48.80" y2="431.30" stroke="#111" stroke-width="1.2" />
<line x1="53.92" y1="428.50" x2="53.92" y2="430.50" stroke="#222" stroke-width="0.9" />
<line x1="56.91" y1="428.50" x2="56.91" y2="430.50" stroke="#222" stroke-width="0.9" />
<line x1="59.04" y1="428.50" x2="59.04" y2="430.50" stroke="#222" stroke-width="0.9" />
<line x1="60.68" y1="428.50" x2="60.68" y2="430.50" stroke="#222" stroke-width="0.9" />
<line x1="62.03" y1="428.50" x2="62.03" y2="430.50" stroke="#222" stroke-width="0.9" />
<line x1="63.17" y1="428.50" x2="63.17" y2="430.50" stroke="#222" stroke-width="0.9" />
<line x1="64.15" y1="428.50" x2="64.15" y2="430.50" stroke="#222" stroke-width="0.9" />
<line x1="65.02" y1="428.50" x2="65.02" y2="430.50" stroke="#222" stroke-width="0.9" />
<text x="47.80" y="440.80" font-size="7.6" fill="#2b2b2b" text-anchor="middle" textLength="6.4" lengthAdjust="spacingAndGlyphs" >10</text>
<text x="51.10" y="437.20" font-size="4.6" fill="#2b2b2b" textLength="1.8" lengthAdjust="spacingAndGlyphs" >2</text>
<line x1="65.80" y1="428.50" x2="65.80" y2="431.30" stroke="#111" stroke-width="1.2" />
<line x1="70.92" y1="428.50" x2="70.92" y2="430.50" stroke="#222" stroke-width="0.9" />
<line x1="73.91" y1="428.50" x2="73.91" y2="430.50" stroke="#222" stroke-width="0.9" />
<line x1="76.04" y1="428.50" x2="76.04" y2="430.50" stroke="#222" stroke-width="0.9" />
<line x1="77.68" y1="428.50" x2="77.68" y2="430.50" stroke="#222" stroke-width="0.9" />
<line x1="79.03" y1="428.50" x2="79.03" y2="430.50" stroke="#222" stroke-width="0.9" />
<line x1="80.17" y1="428.50" x2="80.17" y2="430.50" stroke="#222" stroke-width="0.9" />
<line x1="81.15" y1="428.50" x2="81.15" y2="430.50" stroke="#222" stroke-width="0.9" />
<line x1="82.02" y1="428.50" x2="82.02" y2="430.50" stroke="#222" stroke-width="0.9" />
<text x="64.80" y="440.80" font-size="7.6" fill="#2b2b2b" text-anchor="middle" textLength="6.4" lengthAdjust="spacingAndGlyphs" >10</text>
<text x="68.10" y="437.20" font-size="4.6" fill="#2b2b2b" textLength="1.8" lengthAdjust="spacingAndGlyphs" >3</text>
<line x1="82.80" y1="428.50" x2="82.80" y2="431.30" stroke="#111" stroke-width="1.2" />
<text x="81.80" y="440.80" font-size="7.6" fill="#2b2b2b" text-anchor="middle" textLength="6.4" lengthAdjust="spacingAndGlyphs" >10</text>
<text x="85.10" y="437.20" font-size="4.6" fill="#2b2b2b" textLength="1.8" lengthAdjust="spacingAndGlyphs" >4</text>
<text x="61.00" y="362.90" font-size="9.5" fill="#2b2b2b" text-anchor="middle" textLength="41.8" lengthAdjust="spacingAndGlyphs" >SU-DHL-4</text>
<text x="94.00" y="391.50" font-size="7.6" fill="#2b2b2b" textLength="12.5" lengthAdjust="spacingAndGlyphs">JQ1</text>
<text x="94.00" y="403.70" font-size="7.6" fill="#2b2b2b" textLength="23.4" lengthAdjust="spacingAndGlyphs">Solvent</text>
<text x="94.00" y="415.40" font-size="7.6" fill="#2b2b2b" textLength="12.5" lengthAdjust="spacingAndGlyphs">JQ1</text>
<text x="94.00" y="427.50" font-size="7.6" fill="#2b2b2b" textLength="23.4" lengthAdjust="spacingAndGlyphs">Solvent</text>
<line x1="123.10" y1="386.90" x2="123.10" y2="404.50" stroke="#333" stroke-width="1.2" />
<line x1="123.10" y1="410.40" x2="123.10" y2="428.30" stroke="#333" stroke-width="1.2" />
<text x="127.30" y="399.00" font-size="7.6" fill="#2b2b2b" textLength="15" lengthAdjust="spacingAndGlyphs" >DMF</text>
<text x="127.30" y="422.20" font-size="7.6" fill="#2b2b2b" textLength="14" lengthAdjust="spacingAndGlyphs" >Solv.</text>
<clipPath id="c149_369"><rect x="149.5" y="369.5" width="59.0" height="59.0"/></clipPath>
<g clip-path="url(#c149_369)">
<line x1="149.50" y1="393.20" x2="208.50" y2="393.20" stroke="#f2e2b8" stroke-width="1" />
<path d="M169.50,393.20 C169.92,393.12 171.17,392.95 172.00,392.70 C172.83,392.45 173.58,392.12 174.50,391.70 C175.42,391.28 176.57,390.58 177.50,390.20 C178.43,389.82 179.27,389.57 180.10,389.40 C180.93,389.23 181.60,389.48 182.50,389.20 C183.40,388.92 184.58,388.45 185.50,387.70 C186.42,386.95 187.12,385.80 188.00,384.70 C188.88,383.60 189.97,381.35 190.80,381.10 C191.63,380.85 192.30,382.18 193.00,383.20 C193.70,384.22 194.33,385.87 195.00,387.20 C195.67,388.53 196.35,390.25 197.00,391.20 C197.65,392.15 198.32,392.57 198.90,392.90 C199.48,393.23 200.23,393.15 200.50,393.20 L200.50,393.20 L169.50,393.20 Z" fill="#f9c275" fill-opacity="0.62" stroke="none"/>
<path d="M169.50,393.20 C169.92,393.12 171.17,392.95 172.00,392.70 C172.83,392.45 173.58,392.12 174.50,391.70 C175.42,391.28 176.57,390.58 177.50,390.20 C178.43,389.82 179.27,389.57 180.10,389.40 C180.93,389.23 181.60,389.48 182.50,389.20 C183.40,388.92 184.58,388.45 185.50,387.70 C186.42,386.95 187.12,385.80 188.00,384.70 C188.88,383.60 189.97,381.35 190.80,381.10 C191.63,380.85 192.30,382.18 193.00,383.20 C193.70,384.22 194.33,385.87 195.00,387.20 C195.67,388.53 196.35,390.25 197.00,391.20 C197.65,392.15 198.32,392.57 198.90,392.90 C199.48,393.23 200.23,393.15 200.50,393.20" fill="none" stroke="#d99c42" stroke-width="0.8"/>
<line x1="149.50" y1="404.90" x2="208.50" y2="404.90" stroke="#e6adb8" stroke-width="1" />
<path d="M168.50,404.90 C168.83,404.77 169.83,404.93 170.50,404.10 C171.17,403.27 171.80,401.72 172.50,399.90 C173.20,398.08 174.03,394.03 174.70,393.20 C175.37,392.37 175.87,394.03 176.50,394.90 C177.13,395.77 177.68,397.52 178.50,398.40 C179.32,399.28 180.48,399.95 181.40,400.20 C182.32,400.45 183.23,400.05 184.00,399.90 C184.77,399.75 185.32,399.42 186.00,399.30 C186.68,399.18 187.43,399.10 188.10,399.20 C188.77,399.30 189.35,399.45 190.00,399.90 C190.65,400.35 191.33,401.23 192.00,401.90 C192.67,402.57 193.42,403.40 194.00,403.90 C194.58,404.40 195.25,404.73 195.50,404.90 L195.50,404.90 L168.50,404.90 Z" fill="#e3535b" fill-opacity="0.58" stroke="none"/>
<path d="M168.50,404.90 C168.83,404.77 169.83,404.93 170.50,404.10 C171.17,403.27 171.80,401.72 172.50,399.90 C173.20,398.08 174.03,394.03 174.70,393.20 C175.37,392.37 175.87,394.03 176.50,394.90 C177.13,395.77 177.68,397.52 178.50,398.40 C179.32,399.28 180.48,399.95 181.40,400.20 C182.32,400.45 183.23,400.05 184.00,399.90 C184.77,399.75 185.32,399.42 186.00,399.30 C186.68,399.18 187.43,399.10 188.10,399.20 C188.77,399.30 189.35,399.45 190.00,399.90 C190.65,400.35 191.33,401.23 192.00,401.90 C192.67,402.57 193.42,403.40 194.00,403.90 C194.58,404.40 195.25,404.73 195.50,404.90" fill="none" stroke="#a32a3c" stroke-width="0.8"/>
<line x1="149.50" y1="416.60" x2="208.50" y2="416.60" stroke="#aebdd6" stroke-width="1" />
<path d="M159.50,416.60 C159.90,416.52 161.07,416.52 161.90,416.10 C162.73,415.68 163.65,415.52 164.50,414.10 C165.35,412.68 166.33,409.85 167.00,407.60 C167.67,405.35 168.00,402.80 168.50,400.60 C169.00,398.40 169.50,394.73 170.00,394.40 C170.50,394.07 170.92,396.40 171.50,398.60 C172.08,400.80 172.83,405.10 173.50,407.60 C174.17,410.10 174.75,412.10 175.50,413.60 C176.25,415.10 177.58,416.10 178.00,416.60 L178.00,416.60 L159.50,416.60 Z" fill="#6486c0" fill-opacity="0.58" stroke="none"/>
<path d="M159.50,416.60 C159.90,416.52 161.07,416.52 161.90,416.10 C162.73,415.68 163.65,415.52 164.50,414.10 C165.35,412.68 166.33,409.85 167.00,407.60 C167.67,405.35 168.00,402.80 168.50,400.60 C169.00,398.40 169.50,394.73 170.00,394.40 C170.50,394.07 170.92,396.40 171.50,398.60 C172.08,400.80 172.83,405.10 173.50,407.60 C174.17,410.10 174.75,412.10 175.50,413.60 C176.25,415.10 177.58,416.10 178.00,416.60" fill="none" stroke="#36568a" stroke-width="0.8"/>
<line x1="149.50" y1="428.50" x2="208.50" y2="428.50" stroke="#8c8c9c" stroke-width="1" />
<path d="M163.50,428.50 C163.78,428.37 164.62,428.37 165.20,427.70 C165.78,427.03 166.37,426.53 167.00,424.50 C167.63,422.47 168.33,418.50 169.00,415.50 C169.67,412.50 170.33,407.00 171.00,406.50 C171.67,406.00 172.33,409.83 173.00,412.50 C173.67,415.17 174.38,420.00 175.00,422.50 C175.62,425.00 176.12,426.50 176.70,427.50 C177.28,428.50 178.20,428.33 178.50,428.50 L178.50,428.50 L163.50,428.50 Z" fill="#80809a" fill-opacity="0.66" stroke="none"/>
<path d="M163.50,428.50 C163.78,428.37 164.62,428.37 165.20,427.70 C165.78,427.03 166.37,426.53 167.00,424.50 C167.63,422.47 168.33,418.50 169.00,415.50 C169.67,412.50 170.33,407.00 171.00,406.50 C171.67,406.00 172.33,409.83 173.00,412.50 C173.67,415.17 174.38,420.00 175.00,422.50 C175.62,425.00 176.12,426.50 176.70,427.50 C177.28,428.50 178.20,428.33 178.50,428.50" fill="none" stroke="#404052" stroke-width="0.8"/>
</g>
<rect x="149.50" y="369.50" width="59.00" height="59.00" fill="none" stroke="#555" stroke-width="1"/>
<line x1="149.80" y1="428.50" x2="149.80" y2="431.30" stroke="#111" stroke-width="1.2" />
<line x1="154.92" y1="428.50" x2="154.92" y2="430.50" stroke="#222" stroke-width="0.9" />
<line x1="157.91" y1="428.50" x2="157.91" y2="430.50" stroke="#222" stroke-width="0.9" />
<line x1="160.04" y1="428.50" x2="160.04" y2="430.50" stroke="#222" stroke-width="0.9" />
<line x1="161.68" y1="428.50" x2="161.68" y2="430.50" stroke="#222" stroke-width="0.9" />
<line x1="163.03" y1="428.50" x2="163.03" y2="430.50" stroke="#222" stroke-width="0.9" />
<line x1="164.17" y1="428.50" x2="164.17" y2="430.50" stroke="#222" stroke-width="0.9" />
<line x1="165.15" y1="428.50" x2="165.15" y2="430.50" stroke="#222" stroke-width="0.9" />
<line x1="166.02" y1="428.50" x2="166.02" y2="430.50" stroke="#222" stroke-width="0.9" />
<text x="148.80" y="440.80" font-size="7.6" fill="#2b2b2b" text-anchor="middle" textLength="6.4" lengthAdjust="spacingAndGlyphs" >10</text>
<text x="152.10" y="437.20" font-size="4.6" fill="#2b2b2b" textLength="1.8" lengthAdjust="spacingAndGlyphs" >1</text>
<line x1="166.80" y1="428.50" x2="166.80" y2="431.30" stroke="#111" stroke-width="1.2" />
<line x1="171.92" y1="428.50" x2="171.92" y2="430.50" stroke="#222" stroke-width="0.9" />
<line x1="174.91" y1="428.50" x2="174.91" y2="430.50" stroke="#222" stroke-width="0.9" />
<line x1="177.04" y1="428.50" x2="177.04" y2="430.50" stroke="#222" stroke-width="0.9" />
<line x1="178.68" y1="428.50" x2="178.68" y2="430.50" stroke="#222" stroke-width="0.9" />
<line x1="180.03" y1="428.50" x2="180.03" y2="430.50" stroke="#222" stroke-width="0.9" />
<line x1="181.17" y1="428.50" x2="181.17" y2="430.50" stroke="#222" stroke-width="0.9" />
<line x1="182.15" y1="428.50" x2="182.15" y2="430.50" stroke="#222" stroke-width="0.9" />
<line x1="183.02" y1="428.50" x2="183.02" y2="430.50" stroke="#222" stroke-width="0.9" />
<text x="165.80" y="440.80" font-size="7.6" fill="#2b2b2b" text-anchor="middle" textLength="6.4" lengthAdjust="spacingAndGlyphs" >10</text>
<text x="169.10" y="437.20" font-size="4.6" fill="#2b2b2b" textLength="1.8" lengthAdjust="spacingAndGlyphs" >2</text>
<line x1="183.80" y1="428.50" x2="183.80" y2="431.30" stroke="#111" stroke-width="1.2" />
<line x1="188.92" y1="428.50" x2="188.92" y2="430.50" stroke="#222" stroke-width="0.9" />
<line x1="191.91" y1="428.50" x2="191.91" y2="430.50" stroke="#222" stroke-width="0.9" />
<line x1="194.04" y1="428.50" x2="194.04" y2="430.50" stroke="#222" stroke-width="0.9" />
<line x1="195.68" y1="428.50" x2="195.68" y2="430.50" stroke="#222" stroke-width="0.9" />
<line x1="197.03" y1="428.50" x2="197.03" y2="430.50" stroke="#222" stroke-width="0.9" />
<line x1="198.17" y1="428.50" x2="198.17" y2="430.50" stroke="#222" stroke-width="0.9" />
<line x1="199.15" y1="428.50" x2="199.15" y2="430.50" stroke="#222" stroke-width="0.9" />
<line x1="200.02" y1="428.50" x2="200.02" y2="430.50" stroke="#222" stroke-width="0.9" />
<text x="182.80" y="440.80" font-size="7.6" fill="#2b2b2b" text-anchor="middle" textLength="6.4" lengthAdjust="spacingAndGlyphs" >10</text>
<text x="186.10" y="437.20" font-size="4.6" fill="#2b2b2b" textLength="1.8" lengthAdjust="spacingAndGlyphs" >3</text>
<line x1="200.80" y1="428.50" x2="200.80" y2="431.30" stroke="#111" stroke-width="1.2" />
<text x="199.80" y="440.80" font-size="7.6" fill="#2b2b2b" text-anchor="middle" textLength="6.4" lengthAdjust="spacingAndGlyphs" >10</text>
<text x="203.10" y="437.20" font-size="4.6" fill="#2b2b2b" textLength="1.8" lengthAdjust="spacingAndGlyphs" >4</text>
<text x="179.00" y="362.90" font-size="9.5" fill="#2b2b2b" text-anchor="middle" textLength="41.8" lengthAdjust="spacingAndGlyphs" >SU-DHL-6</text>
<text x="212.00" y="391.50" font-size="7.6" fill="#2b2b2b" textLength="12.5" lengthAdjust="spacingAndGlyphs">JQ1</text>
<text x="212.00" y="403.70" font-size="7.6" fill="#2b2b2b" textLength="23.4" lengthAdjust="spacingAndGlyphs">Solvent</text>
<text x="212.00" y="415.40" font-size="7.6" fill="#2b2b2b" textLength="12.5" lengthAdjust="spacingAndGlyphs">JQ1</text>
<text x="212.00" y="427.50" font-size="7.6" fill="#2b2b2b" textLength="23.4" lengthAdjust="spacingAndGlyphs">Solvent</text>
<line x1="241.70" y1="386.90" x2="241.70" y2="404.50" stroke="#333" stroke-width="1.2" />
<line x1="241.70" y1="410.40" x2="241.70" y2="428.30" stroke="#333" stroke-width="1.2" />
<text x="245.90" y="399.00" font-size="7.6" fill="#2b2b2b" textLength="15" lengthAdjust="spacingAndGlyphs" >DMF</text>
<text x="245.90" y="422.20" font-size="7.6" fill="#2b2b2b" textLength="14" lengthAdjust="spacingAndGlyphs" >Solv.</text>
<clipPath id="c267_369"><rect x="267.5" y="369.5" width="59.0" height="59.0"/></clipPath>
<g clip-path="url(#c267_369)">
<line x1="267.50" y1="393.20" x2="326.50" y2="393.20" stroke="#f2e2b8" stroke-width="1" />
<path d="M285.50,393.20 C285.83,393.07 286.75,393.32 287.50,392.40 C288.25,391.48 289.25,389.15 290.00,387.70 C290.75,386.25 291.52,384.47 292.00,383.70 C292.48,382.93 292.52,383.02 292.90,383.10 C293.28,383.18 293.78,383.35 294.30,384.20 C294.82,385.05 295.48,387.27 296.00,388.20 C296.52,389.13 296.82,389.72 297.40,389.80 C297.98,389.88 298.65,389.38 299.50,388.70 C300.35,388.02 301.50,386.48 302.50,385.70 C303.50,384.92 304.67,384.08 305.50,384.00 C306.33,383.92 306.83,384.50 307.50,385.20 C308.17,385.90 308.83,387.12 309.50,388.20 C310.17,389.28 310.83,390.87 311.50,391.70 C312.17,392.53 313.17,392.95 313.50,393.20 L313.50,393.20 L285.50,393.20 Z" fill="#f9c275" fill-opacity="0.62" stroke="none"/>
<path d="M285.50,393.20 C285.83,393.07 286.75,393.32 287.50,392.40 C288.25,391.48 289.25,389.15 290.00,387.70 C290.75,386.25 291.52,384.47 292.00,383.70 C292.48,382.93 292.52,383.02 292.90,383.10 C293.28,383.18 293.78,383.35 294.30,384.20 C294.82,385.05 295.48,387.27 296.00,388.20 C296.52,389.13 296.82,389.72 297.40,389.80 C297.98,389.88 298.65,389.38 299.50,388.70 C300.35,388.02 301.50,386.48 302.50,385.70 C303.50,384.92 304.67,384.08 305.50,384.00 C306.33,383.92 306.83,384.50 307.50,385.20 C308.17,385.90 308.83,387.12 309.50,388.20 C310.17,389.28 310.83,390.87 311.50,391.70 C312.17,392.53 313.17,392.95 313.50,393.20" fill="none" stroke="#d99c42" stroke-width="0.8"/>
<line x1="267.50" y1="404.90" x2="326.50" y2="404.90" stroke="#e6adb8" stroke-width="1" />
<path d="M281.50,404.90 C282.00,404.82 283.58,404.73 284.50,404.40 C285.42,404.07 286.25,404.82 287.00,402.90 C287.75,400.98 288.40,396.10 289.00,392.90 C289.60,389.70 290.08,384.20 290.60,383.70 C291.12,383.20 291.62,387.20 292.10,389.90 C292.58,392.60 293.02,397.77 293.50,399.90 C293.98,402.03 294.33,402.23 295.00,402.70 C295.67,403.17 296.32,402.83 297.50,402.70 C298.68,402.57 300.77,401.87 302.10,401.90 C303.43,401.93 304.27,402.47 305.50,402.90 C306.73,403.33 308.50,404.17 309.50,404.50 C310.50,404.83 311.17,404.83 311.50,404.90 L311.50,404.90 L281.50,404.90 Z" fill="#e3535b" fill-opacity="0.58" stroke="none"/>
<path d="M281.50,404.90 C282.00,404.82 283.58,404.73 284.50,404.40 C285.42,404.07 286.25,404.82 287.00,402.90 C287.75,400.98 288.40,396.10 289.00,392.90 C289.60,389.70 290.08,384.20 290.60,383.70 C291.12,383.20 291.62,387.20 292.10,389.90 C292.58,392.60 293.02,397.77 293.50,399.90 C293.98,402.03 294.33,402.23 295.00,402.70 C295.67,403.17 296.32,402.83 297.50,402.70 C298.68,402.57 300.77,401.87 302.10,401.90 C303.43,401.93 304.27,402.47 305.50,402.90 C306.73,403.33 308.50,404.17 309.50,404.50 C310.50,404.83 311.17,404.83 311.50,404.90" fill="none" stroke="#a32a3c" stroke-width="0.8"/>
<line x1="267.50" y1="416.60" x2="326.50" y2="416.60" stroke="#aebdd6" stroke-width="1" />
<path d="M279.00,416.60 C279.33,416.50 280.33,416.42 281.00,416.00 C281.67,415.58 282.30,415.17 283.00,414.10 C283.70,413.03 284.48,411.85 285.20,409.60 C285.92,407.35 286.62,403.10 287.30,400.60 C287.98,398.10 288.68,394.93 289.30,394.60 C289.92,394.27 290.38,396.10 291.00,398.60 C291.62,401.10 292.33,406.85 293.00,409.60 C293.67,412.35 294.25,413.93 295.00,415.10 C295.75,416.27 297.08,416.35 297.50,416.60 L297.50,416.60 L279.00,416.60 Z" fill="#6486c0" fill-opacity="0.58" stroke="none"/>
<path d="M279.00,416.60 C279.33,416.50 280.33,416.42 281.00,416.00 C281.67,415.58 282.30,415.17 283.00,414.10 C283.70,413.03 284.48,411.85 285.20,409.60 C285.92,407.35 286.62,403.10 287.30,400.60 C287.98,398.10 288.68,394.93 289.30,394.60 C289.92,394.27 290.38,396.10 291.00,398.60 C291.62,401.10 292.33,406.85 293.00,409.60 C293.67,412.35 294.25,413.93 295.00,415.10 C295.75,416.27 297.08,416.35 297.50,416.60" fill="none" stroke="#36568a" stroke-width="0.8"/>
<line x1="267.50" y1="428.50" x2="326.50" y2="428.50" stroke="#8c8c9c" stroke-width="1" />
<path d="M279.50,428.50 C279.83,428.33 280.67,428.33 281.50,427.50 C282.33,426.67 283.58,425.83 284.50,423.50 C285.42,421.17 286.13,416.50 287.00,413.50 C287.87,410.50 288.95,406.00 289.70,405.50 C290.45,405.00 290.87,407.50 291.50,410.50 C292.13,413.50 292.92,420.67 293.50,423.50 C294.08,426.33 294.33,426.67 295.00,427.50 C295.67,428.33 297.08,428.33 297.50,428.50 L297.50,428.50 L279.50,428.50 Z" fill="#80809a" fill-opacity="0.66" stroke="none"/>
<path d="M279.50,428.50 C279.83,428.33 280.67,428.33 281.50,427.50 C282.33,426.67 283.58,425.83 284.50,423.50 C285.42,421.17 286.13,416.50 287.00,413.50 C287.87,410.50 288.95,406.00 289.70,405.50 C290.45,405.00 290.87,407.50 291.50,410.50 C292.13,413.50 292.92,420.67 293.50,423.50 C294.08,426.33 294.33,426.67 295.00,427.50 C295.67,428.33 297.08,428.33 297.50,428.50" fill="none" stroke="#404052" stroke-width="0.8"/>
</g>
<rect x="267.50" y="369.50" width="59.00" height="59.00" fill="none" stroke="#555" stroke-width="1"/>
<line x1="275.50" y1="428.50" x2="275.50" y2="431.30" stroke="#111" stroke-width="1.2" />
<line x1="279.93" y1="428.50" x2="279.93" y2="430.50" stroke="#222" stroke-width="0.9" />
<line x1="282.51" y1="428.50" x2="282.51" y2="430.50" stroke="#222" stroke-width="0.9" />
<line x1="284.35" y1="428.50" x2="284.35" y2="430.50" stroke="#222" stroke-width="0.9" />
<line x1="285.77" y1="428.50" x2="285.77" y2="430.50" stroke="#222" stroke-width="0.9" />
<line x1="286.94" y1="428.50" x2="286.94" y2="430.50" stroke="#222" stroke-width="0.9" />
<line x1="287.92" y1="428.50" x2="287.92" y2="430.50" stroke="#222" stroke-width="0.9" />
<line x1="288.78" y1="428.50" x2="288.78" y2="430.50" stroke="#222" stroke-width="0.9" />
<line x1="289.53" y1="428.50" x2="289.53" y2="430.50" stroke="#222" stroke-width="0.9" />
<line x1="269.65" y1="428.50" x2="269.65" y2="430.50" stroke="#222" stroke-width="0.9" />
<line x1="271.07" y1="428.50" x2="271.07" y2="430.50" stroke="#222" stroke-width="0.9" />
<line x1="272.24" y1="428.50" x2="272.24" y2="430.50" stroke="#222" stroke-width="0.9" />
<line x1="273.22" y1="428.50" x2="273.22" y2="430.50" stroke="#222" stroke-width="0.9" />
<line x1="274.08" y1="428.50" x2="274.08" y2="430.50" stroke="#222" stroke-width="0.9" />
<line x1="274.83" y1="428.50" x2="274.83" y2="430.50" stroke="#222" stroke-width="0.9" />
<text x="274.50" y="440.80" font-size="7.6" fill="#2b2b2b" text-anchor="middle" textLength="6.4" lengthAdjust="spacingAndGlyphs" >10</text>
<text x="277.80" y="437.20" font-size="4.6" fill="#2b2b2b" textLength="1.8" lengthAdjust="spacingAndGlyphs" >1</text>
<line x1="290.20" y1="428.50" x2="290.20" y2="431.30" stroke="#111" stroke-width="1.2" />
<line x1="294.63" y1="428.50" x2="294.63" y2="430.50" stroke="#222" stroke-width="0.9" />
<line x1="297.21" y1="428.50" x2="297.21" y2="430.50" stroke="#222" stroke-width="0.9" />
<line x1="299.05" y1="428.50" x2="299.05" y2="430.50" stroke="#222" stroke-width="0.9" />
<line x1="300.47" y1="428.50" x2="300.47" y2="430.50" stroke="#222" stroke-width="0.9" />
<line x1="301.64" y1="428.50" x2="301.64" y2="430.50" stroke="#222" stroke-width="0.9" />
<line x1="302.62" y1="428.50" x2="302.62" y2="430.50" stroke="#222" stroke-width="0.9" />
<line x1="303.48" y1="428.50" x2="303.48" y2="430.50" stroke="#222" stroke-width="0.9" />
<line x1="304.23" y1="428.50" x2="304.23" y2="430.50" stroke="#222" stroke-width="0.9" />
<text x="289.20" y="440.80" font-size="7.6" fill="#2b2b2b" text-anchor="middle" textLength="6.4" lengthAdjust="spacingAndGlyphs" >10</text>
<text x="292.50" y="437.20" font-size="4.6" fill="#2b2b2b" textLength="1.8" lengthAdjust="spacingAndGlyphs" >2</text>
<line x1="304.90" y1="428.50" x2="304.90" y2="431.30" stroke="#111" stroke-width="1.2" />
<line x1="309.33" y1="428.50" x2="309.33" y2="430.50" stroke="#222" stroke-width="0.9" />
<line x1="311.91" y1="428.50" x2="311.91" y2="430.50" stroke="#222" stroke-width="0.9" />
<line x1="313.75" y1="428.50" x2="313.75" y2="430.50" stroke="#222" stroke-width="0.9" />
<line x1="315.17" y1="428.50" x2="315.17" y2="430.50" stroke="#222" stroke-width="0.9" />
<line x1="316.34" y1="428.50" x2="316.34" y2="430.50" stroke="#222" stroke-width="0.9" />
<line x1="317.32" y1="428.50" x2="317.32" y2="430.50" stroke="#222" stroke-width="0.9" />
<line x1="318.18" y1="428.50" x2="318.18" y2="430.50" stroke="#222" stroke-width="0.9" />
<line x1="318.93" y1="428.50" x2="318.93" y2="430.50" stroke="#222" stroke-width="0.9" />
<text x="303.90" y="440.80" font-size="7.6" fill="#2b2b2b" text-anchor="middle" textLength="6.4" lengthAdjust="spacingAndGlyphs" >10</text>
<text x="307.20" y="437.20" font-size="4.6" fill="#2b2b2b" textLength="1.8" lengthAdjust="spacingAndGlyphs" >3</text>
<line x1="319.60" y1="428.50" x2="319.60" y2="431.30" stroke="#111" stroke-width="1.2" />
<text x="318.60" y="440.80" font-size="7.6" fill="#2b2b2b" text-anchor="middle" textLength="6.4" lengthAdjust="spacingAndGlyphs" >10</text>
<text x="321.90" y="437.20" font-size="4.6" fill="#2b2b2b" textLength="1.8" lengthAdjust="spacingAndGlyphs" >4</text>
<text x="297.00" y="362.90" font-size="9.5" fill="#2b2b2b" text-anchor="middle" textLength="55.2" lengthAdjust="spacingAndGlyphs" >WSU-DLCL-2</text>
<text x="330.00" y="391.50" font-size="7.6" fill="#2b2b2b" textLength="12.5" lengthAdjust="spacingAndGlyphs">JQ1</text>
<text x="330.00" y="403.70" font-size="7.6" fill="#2b2b2b" textLength="23.4" lengthAdjust="spacingAndGlyphs">Solvent</text>
<text x="330.00" y="415.40" font-size="7.6" fill="#2b2b2b" textLength="12.5" lengthAdjust="spacingAndGlyphs">JQ1</text>
<text x="330.00" y="427.50" font-size="7.6" fill="#2b2b2b" textLength="23.4" lengthAdjust="spacingAndGlyphs">Solvent</text>
<line x1="365.10" y1="386.90" x2="365.10" y2="404.50" stroke="#333" stroke-width="1.2" />
<line x1="365.10" y1="410.40" x2="365.10" y2="428.30" stroke="#333" stroke-width="1.2" />
<text x="369.30" y="399.00" font-size="7.6" fill="#2b2b2b" textLength="15" lengthAdjust="spacingAndGlyphs" >DMF</text>
<text x="369.30" y="422.20" font-size="7.6" fill="#2b2b2b" textLength="14" lengthAdjust="spacingAndGlyphs" >Solv.</text>
<clipPath id="c390_369"><rect x="390.5" y="369.5" width="59.0" height="59.0"/></clipPath>
<g clip-path="url(#c390_369)">
<line x1="390.50" y1="393.20" x2="449.50" y2="393.20" stroke="#f2e2b8" stroke-width="1" />
<path d="M408.50,393.20 C408.92,393.10 410.17,393.10 411.00,392.60 C411.83,392.10 412.62,390.88 413.50,390.20 C414.38,389.52 415.55,388.63 416.30,388.50 C417.05,388.37 417.43,389.07 418.00,389.40 C418.57,389.73 419.03,390.53 419.70,390.50 C420.37,390.47 421.12,390.00 422.00,389.20 C422.88,388.40 424.03,386.83 425.00,385.70 C425.97,384.57 426.97,382.73 427.80,382.40 C428.63,382.07 429.30,382.90 430.00,383.70 C430.70,384.50 431.33,386.03 432.00,387.20 C432.67,388.37 433.25,389.75 434.00,390.70 C434.75,391.65 435.75,392.48 436.50,392.90 C437.25,393.32 438.17,393.15 438.50,393.20 L438.50,393.20 L408.50,393.20 Z" fill="#f9c275" fill-opacity="0.62" stroke="none"/>
<path d="M408.50,393.20 C408.92,393.10 410.17,393.10 411.00,392.60 C411.83,392.10 412.62,390.88 413.50,390.20 C414.38,389.52 415.55,388.63 416.30,388.50 C417.05,388.37 417.43,389.07 418.00,389.40 C418.57,389.73 419.03,390.53 419.70,390.50 C420.37,390.47 421.12,390.00 422.00,389.20 C422.88,388.40 424.03,386.83 425.00,385.70 C425.97,384.57 426.97,382.73 427.80,382.40 C428.63,382.07 429.30,382.90 430.00,383.70 C430.70,384.50 431.33,386.03 432.00,387.20 C432.67,388.37 433.25,389.75 434.00,390.70 C434.75,391.65 435.75,392.48 436.50,392.90 C437.25,393.32 438.17,393.15 438.50,393.20" fill="none" stroke="#d99c42" stroke-width="0.8"/>
<line x1="390.50" y1="404.90" x2="449.50" y2="404.90" stroke="#e6adb8" stroke-width="1" />
<path d="M402.50,404.90 C402.92,404.77 404.17,404.52 405.00,404.10 C405.83,403.68 406.67,403.35 407.50,402.40 C408.33,401.45 409.08,400.05 410.00,398.40 C410.92,396.75 412.17,393.17 413.00,392.50 C413.83,391.83 414.33,393.58 415.00,394.40 C415.67,395.22 416.33,396.78 417.00,397.40 C417.67,398.02 418.22,398.02 419.00,398.10 C419.78,398.18 420.87,397.77 421.70,397.90 C422.53,398.03 423.20,398.40 424.00,398.90 C424.80,399.40 425.67,400.15 426.50,400.90 C427.33,401.65 428.23,402.78 429.00,403.40 C429.77,404.02 430.52,404.35 431.10,404.60 C431.68,404.85 432.27,404.85 432.50,404.90 L432.50,404.90 L402.50,404.90 Z" fill="#e3535b" fill-opacity="0.58" stroke="none"/>
<path d="M402.50,404.90 C402.92,404.77 404.17,404.52 405.00,404.10 C405.83,403.68 406.67,403.35 407.50,402.40 C408.33,401.45 409.08,400.05 410.00,398.40 C410.92,396.75 412.17,393.17 413.00,392.50 C413.83,391.83 414.33,393.58 415.00,394.40 C415.67,395.22 416.33,396.78 417.00,397.40 C417.67,398.02 418.22,398.02 419.00,398.10 C419.78,398.18 420.87,397.77 421.70,397.90 C422.53,398.03 423.20,398.40 424.00,398.90 C424.80,399.40 425.67,400.15 426.50,400.90 C427.33,401.65 428.23,402.78 429.00,403.40 C429.77,404.02 430.52,404.35 431.10,404.60 C431.68,404.85 432.27,404.85 432.50,404.90" fill="none" stroke="#a32a3c" stroke-width="0.8"/>
<line x1="390.50" y1="416.60" x2="449.50" y2="416.60" stroke="#aebdd6" stroke-width="1" />
<path d="M400.50,416.60 C400.83,416.50 401.80,416.37 402.50,416.00 C403.20,415.63 403.95,415.27 404.70,414.40 C405.45,413.53 406.23,412.77 407.00,410.80 C407.77,408.83 408.57,405.38 409.30,402.60 C410.03,399.82 410.73,394.77 411.40,394.10 C412.07,393.43 412.65,396.18 413.30,398.60 C413.95,401.02 414.63,405.93 415.30,408.60 C415.97,411.27 416.60,413.27 417.30,414.60 C418.00,415.93 419.13,416.27 419.50,416.60 L419.50,416.60 L400.50,416.60 Z" fill="#6486c0" fill-opacity="0.58" stroke="none"/>
<path d="M400.50,416.60 C400.83,416.50 401.80,416.37 402.50,416.00 C403.20,415.63 403.95,415.27 404.70,414.40 C405.45,413.53 406.23,412.77 407.00,410.80 C407.77,408.83 408.57,405.38 409.30,402.60 C410.03,399.82 410.73,394.77 411.40,394.10 C412.07,393.43 412.65,396.18 413.30,398.60 C413.95,401.02 414.63,405.93 415.30,408.60 C415.97,411.27 416.60,413.27 417.30,414.60 C418.00,415.93 419.13,416.27 419.50,416.60" fill="none" stroke="#36568a" stroke-width="0.8"/>
<line x1="390.50" y1="428.50" x2="449.50" y2="428.50" stroke="#8c8c9c" stroke-width="1" />
<path d="M400.50,428.50 C400.90,428.37 402.07,428.28 402.90,427.70 C403.73,427.12 404.57,426.70 405.50,425.00 C406.43,423.30 407.52,420.42 408.50,417.50 C409.48,414.58 410.60,408.50 411.40,407.50 C412.20,406.50 412.65,409.00 413.30,411.50 C413.95,414.00 414.68,419.83 415.30,422.50 C415.92,425.17 416.38,426.50 417.00,427.50 C417.62,428.50 418.67,428.33 419.00,428.50 L419.00,428.50 L400.50,428.50 Z" fill="#80809a" fill-opacity="0.66" stroke="none"/>
<path d="M400.50,428.50 C400.90,428.37 402.07,428.28 402.90,427.70 C403.73,427.12 404.57,426.70 405.50,425.00 C406.43,423.30 407.52,420.42 408.50,417.50 C409.48,414.58 410.60,408.50 411.40,407.50 C412.20,406.50 412.65,409.00 413.30,411.50 C413.95,414.00 414.68,419.83 415.30,422.50 C415.92,425.17 416.38,426.50 417.00,427.50 C417.62,428.50 418.67,428.33 419.00,428.50" fill="none" stroke="#404052" stroke-width="0.8"/>
</g>
<rect x="390.50" y="369.50" width="59.00" height="59.00" fill="none" stroke="#555" stroke-width="1"/>
<line x1="398.30" y1="428.50" x2="398.30" y2="431.30" stroke="#111" stroke-width="1.2" />
<line x1="402.79" y1="428.50" x2="402.79" y2="430.50" stroke="#222" stroke-width="0.9" />
<line x1="405.41" y1="428.50" x2="405.41" y2="430.50" stroke="#222" stroke-width="0.9" />
<line x1="407.27" y1="428.50" x2="407.27" y2="430.50" stroke="#222" stroke-width="0.9" />
<line x1="408.71" y1="428.50" x2="408.71" y2="430.50" stroke="#222" stroke-width="0.9" />
<line x1="409.89" y1="428.50" x2="409.89" y2="430.50" stroke="#222" stroke-width="0.9" />
<line x1="410.89" y1="428.50" x2="410.89" y2="430.50" stroke="#222" stroke-width="0.9" />
<line x1="411.76" y1="428.50" x2="411.76" y2="430.50" stroke="#222" stroke-width="0.9" />
<line x1="412.52" y1="428.50" x2="412.52" y2="430.50" stroke="#222" stroke-width="0.9" />
<line x1="392.37" y1="428.50" x2="392.37" y2="430.50" stroke="#222" stroke-width="0.9" />
<line x1="393.81" y1="428.50" x2="393.81" y2="430.50" stroke="#222" stroke-width="0.9" />
<line x1="394.99" y1="428.50" x2="394.99" y2="430.50" stroke="#222" stroke-width="0.9" />
<line x1="395.99" y1="428.50" x2="395.99" y2="430.50" stroke="#222" stroke-width="0.9" />
<line x1="396.86" y1="428.50" x2="396.86" y2="430.50" stroke="#222" stroke-width="0.9" />
<line x1="397.62" y1="428.50" x2="397.62" y2="430.50" stroke="#222" stroke-width="0.9" />
<text x="397.30" y="440.80" font-size="7.6" fill="#2b2b2b" text-anchor="middle" textLength="6.4" lengthAdjust="spacingAndGlyphs" >10</text>
<text x="400.60" y="437.20" font-size="4.6" fill="#2b2b2b" textLength="1.8" lengthAdjust="spacingAndGlyphs" >1</text>
<line x1="413.20" y1="428.50" x2="413.20" y2="431.30" stroke="#111" stroke-width="1.2" />
<line x1="417.69" y1="428.50" x2="417.69" y2="430.50" stroke="#222" stroke-width="0.9" />
<line x1="420.31" y1="428.50" x2="420.31" y2="430.50" stroke="#222" stroke-width="0.9" />
<line x1="422.17" y1="428.50" x2="422.17" y2="430.50" stroke="#222" stroke-width="0.9" />
<line x1="423.61" y1="428.50" x2="423.61" y2="430.50" stroke="#222" stroke-width="0.9" />
<line x1="424.79" y1="428.50" x2="424.79" y2="430.50" stroke="#222" stroke-width="0.9" />
<line x1="425.79" y1="428.50" x2="425.79" y2="430.50" stroke="#222" stroke-width="0.9" />
<line x1="426.66" y1="428.50" x2="426.66" y2="430.50" stroke="#222" stroke-width="0.9" />
<line x1="427.42" y1="428.50" x2="427.42" y2="430.50" stroke="#222" stroke-width="0.9" />
<text x="412.20" y="440.80" font-size="7.6" fill="#2b2b2b" text-anchor="middle" textLength="6.4" lengthAdjust="spacingAndGlyphs" >10</text>
<text x="415.50" y="437.20" font-size="4.6" fill="#2b2b2b" textLength="1.8" lengthAdjust="spacingAndGlyphs" >2</text>
<line x1="428.10" y1="428.50" x2="428.10" y2="431.30" stroke="#111" stroke-width="1.2" />
<line x1="432.59" y1="428.50" x2="432.59" y2="430.50" stroke="#222" stroke-width="0.9" />
<line x1="435.21" y1="428.50" x2="435.21" y2="430.50" stroke="#222" stroke-width="0.9" />
<line x1="437.07" y1="428.50" x2="437.07" y2="430.50" stroke="#222" stroke-width="0.9" />
<line x1="438.51" y1="428.50" x2="438.51" y2="430.50" stroke="#222" stroke-width="0.9" />
<line x1="439.69" y1="428.50" x2="439.69" y2="430.50" stroke="#222" stroke-width="0.9" />
<line x1="440.69" y1="428.50" x2="440.69" y2="430.50" stroke="#222" stroke-width="0.9" />
<line x1="441.56" y1="428.50" x2="441.56" y2="430.50" stroke="#222" stroke-width="0.9" />
<line x1="442.32" y1="428.50" x2="442.32" y2="430.50" stroke="#222" stroke-width="0.9" />
<text x="427.10" y="440.80" font-size="7.6" fill="#2b2b2b" text-anchor="middle" textLength="6.4" lengthAdjust="spacingAndGlyphs" >10</text>
<text x="430.40" y="437.20" font-size="4.6" fill="#2b2b2b" textLength="1.8" lengthAdjust="spacingAndGlyphs" >3</text>
<line x1="443.00" y1="428.50" x2="443.00" y2="431.30" stroke="#111" stroke-width="1.2" />
<text x="442.00" y="440.80" font-size="7.6" fill="#2b2b2b" text-anchor="middle" textLength="6.4" lengthAdjust="spacingAndGlyphs" >10</text>
<text x="445.30" y="437.20" font-size="4.6" fill="#2b2b2b" textLength="1.8" lengthAdjust="spacingAndGlyphs" >4</text>
<text x="420.00" y="362.90" font-size="9.5" fill="#2b2b2b" text-anchor="middle" textLength="33.2" lengthAdjust="spacingAndGlyphs" >OCI-Ly7</text>
<text x="453.00" y="391.50" font-size="7.6" fill="#2b2b2b" textLength="12.5" lengthAdjust="spacingAndGlyphs">JQ1</text>
<text x="453.00" y="403.70" font-size="7.6" fill="#2b2b2b" textLength="23.4" lengthAdjust="spacingAndGlyphs">Solvent</text>
<text x="453.00" y="415.40" font-size="7.6" fill="#2b2b2b" textLength="12.5" lengthAdjust="spacingAndGlyphs">JQ1</text>
<text x="453.00" y="427.50" font-size="7.6" fill="#2b2b2b" textLength="23.4" lengthAdjust="spacingAndGlyphs">Solvent</text>
<line x1="489.40" y1="386.90" x2="489.40" y2="404.50" stroke="#333" stroke-width="1.2" />
<line x1="489.40" y1="410.40" x2="489.40" y2="428.30" stroke="#333" stroke-width="1.2" />
<text x="493.60" y="399.00" font-size="7.6" fill="#2b2b2b" textLength="15" lengthAdjust="spacingAndGlyphs" >DMF</text>
<text x="493.60" y="422.20" font-size="7.6" fill="#2b2b2b" textLength="14" lengthAdjust="spacingAndGlyphs" >Solv.</text>
<text x="28.70" y="402.00" font-size="9.8" fill="#2b2b2b" text-anchor="middle" textLength="21" lengthAdjust="spacingAndGlyphs" transform="rotate(-90 28.70 402.00)" >Count</text>
<line x1="31.00" y1="446.20" x2="85.20" y2="446.20" stroke="#111" stroke-width="1.2" />
<polygon points="84.70,444.10 84.70,448.30 89.20,446.20" fill="#111"/>
<text x="61.90" y="457.70" font-size="10.5" fill="#2b2b2b" text-anchor="middle" textLength="40" lengthAdjust="spacingAndGlyphs" >BODIPY C11</text>
<clipPath id="c315_504"><rect x="315.5" y="504.5" width="59.0" height="59.0"/></clipPath>
<g clip-path="url(#c315_504)">
<line x1="315.50" y1="528.90" x2="374.50" y2="528.90" stroke="#f2e2b8" stroke-width="1" />
<path d="M335.50,528.90 C335.92,528.82 337.17,529.07 338.00,528.40 C338.83,527.73 339.83,526.15 340.50,524.90 C341.17,523.65 341.48,521.88 342.00,520.90 C342.52,519.92 343.05,519.00 343.60,519.00 C344.15,519.00 344.77,519.83 345.30,520.90 C345.83,521.97 346.33,524.37 346.80,525.40 C347.27,526.43 347.57,526.90 348.10,527.10 C348.63,527.30 349.27,527.05 350.00,526.60 C350.73,526.15 351.67,525.07 352.50,524.40 C353.33,523.73 354.28,522.93 355.00,522.60 C355.72,522.27 356.13,522.18 356.80,522.40 C357.47,522.62 358.30,523.23 359.00,523.90 C359.70,524.57 360.25,525.62 361.00,526.40 C361.75,527.18 362.75,528.18 363.50,528.60 C364.25,529.02 365.17,528.85 365.50,528.90 L365.50,528.90 L335.50,528.90 Z" fill="#f9c275" fill-opacity="0.62" stroke="none"/>
<path d="M335.50,528.90 C335.92,528.82 337.17,529.07 338.00,528.40 C338.83,527.73 339.83,526.15 340.50,524.90 C341.17,523.65 341.48,521.88 342.00,520.90 C342.52,519.92 343.05,519.00 343.60,519.00 C344.15,519.00 344.77,519.83 345.30,520.90 C345.83,521.97 346.33,524.37 346.80,525.40 C347.27,526.43 347.57,526.90 348.10,527.10 C348.63,527.30 349.27,527.05 350.00,526.60 C350.73,526.15 351.67,525.07 352.50,524.40 C353.33,523.73 354.28,522.93 355.00,522.60 C355.72,522.27 356.13,522.18 356.80,522.40 C357.47,522.62 358.30,523.23 359.00,523.90 C359.70,524.57 360.25,525.62 361.00,526.40 C361.75,527.18 362.75,528.18 363.50,528.60 C364.25,529.02 365.17,528.85 365.50,528.90" fill="none" stroke="#d99c42" stroke-width="0.8"/>
<line x1="315.50" y1="540.60" x2="374.50" y2="540.60" stroke="#e6adb8" stroke-width="1" />
<path d="M331.50,540.60 C331.92,540.52 333.25,540.60 334.00,540.10 C334.75,539.60 335.33,539.52 336.00,537.60 C336.67,535.68 337.38,531.20 338.00,528.60 C338.62,526.00 339.15,522.17 339.70,522.00 C340.25,521.83 340.78,525.17 341.30,527.60 C341.82,530.03 342.27,534.63 342.80,536.60 C343.33,538.57 343.72,538.88 344.50,539.40 C345.28,539.92 346.35,539.68 347.50,539.70 C348.65,539.72 350.23,539.47 351.40,539.50 C352.57,539.53 353.48,539.75 354.50,539.90 C355.52,540.05 356.50,540.28 357.50,540.40 C358.50,540.52 360.00,540.57 360.50,540.60 L360.50,540.60 L331.50,540.60 Z" fill="#e3535b" fill-opacity="0.58" stroke="none"/>
<path d="M331.50,540.60 C331.92,540.52 333.25,540.60 334.00,540.10 C334.75,539.60 335.33,539.52 336.00,537.60 C336.67,535.68 337.38,531.20 338.00,528.60 C338.62,526.00 339.15,522.17 339.70,522.00 C340.25,521.83 340.78,525.17 341.30,527.60 C341.82,530.03 342.27,534.63 342.80,536.60 C343.33,538.57 343.72,538.88 344.50,539.40 C345.28,539.92 346.35,539.68 347.50,539.70 C348.65,539.72 350.23,539.47 351.40,539.50 C352.57,539.53 353.48,539.75 354.50,539.90 C355.52,540.05 356.50,540.28 357.50,540.40 C358.50,540.52 360.00,540.57 360.50,540.60" fill="none" stroke="#a32a3c" stroke-width="0.8"/>
<line x1="315.50" y1="552.30" x2="374.50" y2="552.30" stroke="#aebdd6" stroke-width="1" />
<path d="M327.50,552.30 C328.00,552.18 329.58,552.10 330.50,551.60 C331.42,551.10 332.17,550.85 333.00,549.30 C333.83,547.75 334.75,544.80 335.50,542.30 C336.25,539.80 336.87,536.33 337.50,534.30 C338.13,532.27 338.72,529.93 339.30,530.10 C339.88,530.27 340.38,532.60 341.00,535.30 C341.62,538.00 342.42,543.67 343.00,546.30 C343.58,548.93 343.92,550.10 344.50,551.10 C345.08,552.10 346.17,552.10 346.50,552.30 L346.50,552.30 L327.50,552.30 Z" fill="#6486c0" fill-opacity="0.58" stroke="none"/>
<path d="M327.50,552.30 C328.00,552.18 329.58,552.10 330.50,551.60 C331.42,551.10 332.17,550.85 333.00,549.30 C333.83,547.75 334.75,544.80 335.50,542.30 C336.25,539.80 336.87,536.33 337.50,534.30 C338.13,532.27 338.72,529.93 339.30,530.10 C339.88,530.27 340.38,532.60 341.00,535.30 C341.62,538.00 342.42,543.67 343.00,546.30 C343.58,548.93 343.92,550.10 344.50,551.10 C345.08,552.10 346.17,552.10 346.50,552.30" fill="none" stroke="#36568a" stroke-width="0.8"/>
<line x1="315.50" y1="563.50" x2="374.50" y2="563.50" stroke="#8c8c9c" stroke-width="1" />
<path d="M329.50,563.50 C329.90,563.37 331.15,563.37 331.90,562.70 C332.65,562.03 333.32,561.37 334.00,559.50 C334.68,557.63 335.37,554.17 336.00,551.50 C336.63,548.83 337.25,545.38 337.80,543.50 C338.35,541.62 338.80,539.87 339.30,540.20 C339.80,540.53 340.27,542.78 340.80,545.50 C341.33,548.22 341.97,553.70 342.50,556.50 C343.03,559.30 343.42,561.13 344.00,562.30 C344.58,563.47 345.67,563.30 346.00,563.50 L346.00,563.50 L329.50,563.50 Z" fill="#80809a" fill-opacity="0.66" stroke="none"/>
<path d="M329.50,563.50 C329.90,563.37 331.15,563.37 331.90,562.70 C332.65,562.03 333.32,561.37 334.00,559.50 C334.68,557.63 335.37,554.17 336.00,551.50 C336.63,548.83 337.25,545.38 337.80,543.50 C338.35,541.62 338.80,539.87 339.30,540.20 C339.80,540.53 340.27,542.78 340.80,545.50 C341.33,548.22 341.97,553.70 342.50,556.50 C343.03,559.30 343.42,561.13 344.00,562.30 C344.58,563.47 345.67,563.30 346.00,563.50" fill="none" stroke="#404052" stroke-width="0.8"/>
</g>
<rect x="315.50" y="504.50" width="59.00" height="59.00" fill="none" stroke="#555" stroke-width="1"/>
<line x1="323.60" y1="563.50" x2="323.60" y2="566.30" stroke="#111" stroke-width="1.2" />
<line x1="328.06" y1="563.50" x2="328.06" y2="565.50" stroke="#222" stroke-width="0.9" />
<line x1="330.66" y1="563.50" x2="330.66" y2="565.50" stroke="#222" stroke-width="0.9" />
<line x1="332.51" y1="563.50" x2="332.51" y2="565.50" stroke="#222" stroke-width="0.9" />
<line x1="333.94" y1="563.50" x2="333.94" y2="565.50" stroke="#222" stroke-width="0.9" />
<line x1="335.12" y1="563.50" x2="335.12" y2="565.50" stroke="#222" stroke-width="0.9" />
<line x1="336.11" y1="563.50" x2="336.11" y2="565.50" stroke="#222" stroke-width="0.9" />
<line x1="336.97" y1="563.50" x2="336.97" y2="565.50" stroke="#222" stroke-width="0.9" />
<line x1="337.72" y1="563.50" x2="337.72" y2="565.50" stroke="#222" stroke-width="0.9" />
<line x1="317.71" y1="563.50" x2="317.71" y2="565.50" stroke="#222" stroke-width="0.9" />
<line x1="319.14" y1="563.50" x2="319.14" y2="565.50" stroke="#222" stroke-width="0.9" />
<line x1="320.32" y1="563.50" x2="320.32" y2="565.50" stroke="#222" stroke-width="0.9" />
<line x1="321.31" y1="563.50" x2="321.31" y2="565.50" stroke="#222" stroke-width="0.9" />
<line x1="322.17" y1="563.50" x2="322.17" y2="565.50" stroke="#222" stroke-width="0.9" />
<line x1="322.92" y1="563.50" x2="322.92" y2="565.50" stroke="#222" stroke-width="0.9" />
<text x="322.60" y="576.20" font-size="7.6" fill="#2b2b2b" text-anchor="middle" textLength="6.4" lengthAdjust="spacingAndGlyphs" >10</text>
<text x="325.90" y="572.60" font-size="4.6" fill="#2b2b2b" textLength="1.8" lengthAdjust="spacingAndGlyphs" >1</text>
<line x1="338.40" y1="563.50" x2="338.40" y2="566.30" stroke="#111" stroke-width="1.2" />
<line x1="342.86" y1="563.50" x2="342.86" y2="565.50" stroke="#222" stroke-width="0.9" />
<line x1="345.46" y1="563.50" x2="345.46" y2="565.50" stroke="#222" stroke-width="0.9" />
<line x1="347.31" y1="563.50" x2="347.31" y2="565.50" stroke="#222" stroke-width="0.9" />
<line x1="348.74" y1="563.50" x2="348.74" y2="565.50" stroke="#222" stroke-width="0.9" />
<line x1="349.92" y1="563.50" x2="349.92" y2="565.50" stroke="#222" stroke-width="0.9" />
<line x1="350.91" y1="563.50" x2="350.91" y2="565.50" stroke="#222" stroke-width="0.9" />
<line x1="351.77" y1="563.50" x2="351.77" y2="565.50" stroke="#222" stroke-width="0.9" />
<line x1="352.52" y1="563.50" x2="352.52" y2="565.50" stroke="#222" stroke-width="0.9" />
<text x="337.40" y="576.20" font-size="7.6" fill="#2b2b2b" text-anchor="middle" textLength="6.4" lengthAdjust="spacingAndGlyphs" >10</text>
<text x="340.70" y="572.60" font-size="4.6" fill="#2b2b2b" textLength="1.8" lengthAdjust="spacingAndGlyphs" >2</text>
<line x1="353.20" y1="563.50" x2="353.20" y2="566.30" stroke="#111" stroke-width="1.2" />
<line x1="357.66" y1="563.50" x2="357.66" y2="565.50" stroke="#222" stroke-width="0.9" />
<line x1="360.26" y1="563.50" x2="360.26" y2="565.50" stroke="#222" stroke-width="0.9" />
<line x1="362.11" y1="563.50" x2="362.11" y2="565.50" stroke="#222" stroke-width="0.9" />
<line x1="363.54" y1="563.50" x2="363.54" y2="565.50" stroke="#222" stroke-width="0.9" />
<line x1="364.72" y1="563.50" x2="364.72" y2="565.50" stroke="#222" stroke-width="0.9" />
<line x1="365.71" y1="563.50" x2="365.71" y2="565.50" stroke="#222" stroke-width="0.9" />
<line x1="366.57" y1="563.50" x2="366.57" y2="565.50" stroke="#222" stroke-width="0.9" />
<line x1="367.32" y1="563.50" x2="367.32" y2="565.50" stroke="#222" stroke-width="0.9" />
<text x="352.20" y="576.20" font-size="7.6" fill="#2b2b2b" text-anchor="middle" textLength="6.4" lengthAdjust="spacingAndGlyphs" >10</text>
<text x="355.50" y="572.60" font-size="4.6" fill="#2b2b2b" textLength="1.8" lengthAdjust="spacingAndGlyphs" >3</text>
<line x1="368.00" y1="563.50" x2="368.00" y2="566.30" stroke="#111" stroke-width="1.2" />
<text x="367.00" y="576.20" font-size="7.6" fill="#2b2b2b" text-anchor="middle" textLength="6.4" lengthAdjust="spacingAndGlyphs" >10</text>
<text x="370.30" y="572.60" font-size="4.6" fill="#2b2b2b" textLength="1.8" lengthAdjust="spacingAndGlyphs" >4</text>
<text x="345.00" y="498.9" font-size="10" fill="#2b2b2b" text-anchor="middle" textLength="44" lengthAdjust="spacingAndGlyphs">sh<tspan font-style="italic">BRD4</tspan>#2</text>
<clipPath id="c381_504"><rect x="381.0" y="504.5" width="59.0" height="59.0"/></clipPath>
<g clip-path="url(#c381_504)">
<line x1="381.00" y1="528.90" x2="440.00" y2="528.90" stroke="#f2e2b8" stroke-width="1" />
<path d="M401.00,528.90 C401.50,528.82 403.08,528.90 404.00,528.40 C404.92,527.90 405.80,527.32 406.50,525.90 C407.20,524.48 407.67,521.48 408.20,519.90 C408.73,518.32 409.18,516.57 409.70,516.40 C410.22,516.23 410.75,517.48 411.30,518.90 C411.85,520.32 412.38,523.53 413.00,524.90 C413.62,526.27 414.25,526.90 415.00,527.10 C415.75,527.30 416.67,526.47 417.50,526.10 C418.33,525.73 419.28,525.18 420.00,524.90 C420.72,524.62 421.13,524.32 421.80,524.40 C422.47,524.48 423.22,524.85 424.00,525.40 C424.78,525.95 425.67,527.15 426.50,527.70 C427.33,528.25 428.25,528.50 429.00,528.70 C429.75,528.90 430.67,528.87 431.00,528.90 L431.00,528.90 L401.00,528.90 Z" fill="#f9c275" fill-opacity="0.62" stroke="none"/>
<path d="M401.00,528.90 C401.50,528.82 403.08,528.90 404.00,528.40 C404.92,527.90 405.80,527.32 406.50,525.90 C407.20,524.48 407.67,521.48 408.20,519.90 C408.73,518.32 409.18,516.57 409.70,516.40 C410.22,516.23 410.75,517.48 411.30,518.90 C411.85,520.32 412.38,523.53 413.00,524.90 C413.62,526.27 414.25,526.90 415.00,527.10 C415.75,527.30 416.67,526.47 417.50,526.10 C418.33,525.73 419.28,525.18 420.00,524.90 C420.72,524.62 421.13,524.32 421.80,524.40 C422.47,524.48 423.22,524.85 424.00,525.40 C424.78,525.95 425.67,527.15 426.50,527.70 C427.33,528.25 428.25,528.50 429.00,528.70 C429.75,528.90 430.67,528.87 431.00,528.90" fill="none" stroke="#d99c42" stroke-width="0.8"/>
<line x1="381.00" y1="540.60" x2="440.00" y2="540.60" stroke="#e6adb8" stroke-width="1" />
<path d="M397.00,540.60 C397.42,540.52 398.75,540.60 399.50,540.10 C400.25,539.60 400.83,539.35 401.50,537.60 C402.17,535.85 402.85,531.97 403.50,529.60 C404.15,527.23 404.82,523.57 405.40,523.40 C405.98,523.23 406.48,526.32 407.00,528.60 C407.52,530.88 408.00,535.27 408.50,537.10 C409.00,538.93 409.25,539.12 410.00,539.60 C410.75,540.08 411.72,539.97 413.00,540.00 C414.28,540.03 416.37,539.78 417.70,539.80 C419.03,539.82 419.95,539.97 421.00,540.10 C422.05,540.23 423.50,540.52 424.00,540.60 L424.00,540.60 L397.00,540.60 Z" fill="#e3535b" fill-opacity="0.58" stroke="none"/>
<path d="M397.00,540.60 C397.42,540.52 398.75,540.60 399.50,540.10 C400.25,539.60 400.83,539.35 401.50,537.60 C402.17,535.85 402.85,531.97 403.50,529.60 C404.15,527.23 404.82,523.57 405.40,523.40 C405.98,523.23 406.48,526.32 407.00,528.60 C407.52,530.88 408.00,535.27 408.50,537.10 C409.00,538.93 409.25,539.12 410.00,539.60 C410.75,540.08 411.72,539.97 413.00,540.00 C414.28,540.03 416.37,539.78 417.70,539.80 C419.03,539.82 419.95,539.97 421.00,540.10 C422.05,540.23 423.50,540.52 424.00,540.60" fill="none" stroke="#a32a3c" stroke-width="0.8"/>
<line x1="381.00" y1="552.30" x2="440.00" y2="552.30" stroke="#aebdd6" stroke-width="1" />
<path d="M393.00,552.30 C393.50,552.18 395.08,552.10 396.00,551.60 C396.92,551.10 397.67,550.85 398.50,549.30 C399.33,547.75 400.25,544.63 401.00,542.30 C401.75,539.97 402.38,537.22 403.00,535.30 C403.62,533.38 404.15,530.80 404.70,530.80 C405.25,530.80 405.70,532.72 406.30,535.30 C406.90,537.88 407.68,543.67 408.30,546.30 C408.92,548.93 409.38,550.10 410.00,551.10 C410.62,552.10 411.67,552.10 412.00,552.30 L412.00,552.30 L393.00,552.30 Z" fill="#6486c0" fill-opacity="0.58" stroke="none"/>
<path d="M393.00,552.30 C393.50,552.18 395.08,552.10 396.00,551.60 C396.92,551.10 397.67,550.85 398.50,549.30 C399.33,547.75 400.25,544.63 401.00,542.30 C401.75,539.97 402.38,537.22 403.00,535.30 C403.62,533.38 404.15,530.80 404.70,530.80 C405.25,530.80 405.70,532.72 406.30,535.30 C406.90,537.88 407.68,543.67 408.30,546.30 C408.92,548.93 409.38,550.10 410.00,551.10 C410.62,552.10 411.67,552.10 412.00,552.30" fill="none" stroke="#36568a" stroke-width="0.8"/>
<line x1="381.00" y1="563.50" x2="440.00" y2="563.50" stroke="#8c8c9c" stroke-width="1" />
<path d="M395.00,563.50 C395.40,563.37 396.65,563.37 397.40,562.70 C398.15,562.03 398.82,561.37 399.50,559.50 C400.18,557.63 400.87,554.17 401.50,551.50 C402.13,548.83 402.77,545.27 403.30,543.50 C403.83,541.73 404.22,540.57 404.70,540.90 C405.18,541.23 405.65,542.90 406.20,545.50 C406.75,548.10 407.45,553.70 408.00,556.50 C408.55,559.30 408.92,561.13 409.50,562.30 C410.08,563.47 411.17,563.30 411.50,563.50 L411.50,563.50 L395.00,563.50 Z" fill="#80809a" fill-opacity="0.66" stroke="none"/>
<path d="M395.00,563.50 C395.40,563.37 396.65,563.37 397.40,562.70 C398.15,562.03 398.82,561.37 399.50,559.50 C400.18,557.63 400.87,554.17 401.50,551.50 C402.13,548.83 402.77,545.27 403.30,543.50 C403.83,541.73 404.22,540.57 404.70,540.90 C405.18,541.23 405.65,542.90 406.20,545.50 C406.75,548.10 407.45,553.70 408.00,556.50 C408.55,559.30 408.92,561.13 409.50,562.30 C410.08,563.47 411.17,563.30 411.50,563.50" fill="none" stroke="#404052" stroke-width="0.8"/>
</g>
<rect x="381.00" y="504.50" width="59.00" height="59.00" fill="none" stroke="#555" stroke-width="1"/>
<line x1="389.10" y1="563.50" x2="389.10" y2="566.30" stroke="#111" stroke-width="1.2" />
<line x1="393.56" y1="563.50" x2="393.56" y2="565.50" stroke="#222" stroke-width="0.9" />
<line x1="396.16" y1="563.50" x2="396.16" y2="565.50" stroke="#222" stroke-width="0.9" />
<line x1="398.01" y1="563.50" x2="398.01" y2="565.50" stroke="#222" stroke-width="0.9" />
<line x1="399.44" y1="563.50" x2="399.44" y2="565.50" stroke="#222" stroke-width="0.9" />
<line x1="400.62" y1="563.50" x2="400.62" y2="565.50" stroke="#222" stroke-width="0.9" />
<line x1="401.61" y1="563.50" x2="401.61" y2="565.50" stroke="#222" stroke-width="0.9" />
<line x1="402.47" y1="563.50" x2="402.47" y2="565.50" stroke="#222" stroke-width="0.9" />
<line x1="403.22" y1="563.50" x2="403.22" y2="565.50" stroke="#222" stroke-width="0.9" />
<line x1="383.21" y1="563.50" x2="383.21" y2="565.50" stroke="#222" stroke-width="0.9" />
<line x1="384.64" y1="563.50" x2="384.64" y2="565.50" stroke="#222" stroke-width="0.9" />
<line x1="385.82" y1="563.50" x2="385.82" y2="565.50" stroke="#222" stroke-width="0.9" />
<line x1="386.81" y1="563.50" x2="386.81" y2="565.50" stroke="#222" stroke-width="0.9" />
<line x1="387.67" y1="563.50" x2="387.67" y2="565.50" stroke="#222" stroke-width="0.9" />
<line x1="388.42" y1="563.50" x2="388.42" y2="565.50" stroke="#222" stroke-width="0.9" />
<text x="388.10" y="576.20" font-size="7.6" fill="#2b2b2b" text-anchor="middle" textLength="6.4" lengthAdjust="spacingAndGlyphs" >10</text>
<text x="391.40" y="572.60" font-size="4.6" fill="#2b2b2b" textLength="1.8" lengthAdjust="spacingAndGlyphs" >1</text>
<line x1="403.90" y1="563.50" x2="403.90" y2="566.30" stroke="#111" stroke-width="1.2" />
<line x1="408.36" y1="563.50" x2="408.36" y2="565.50" stroke="#222" stroke-width="0.9" />
<line x1="410.96" y1="563.50" x2="410.96" y2="565.50" stroke="#222" stroke-width="0.9" />
<line x1="412.81" y1="563.50" x2="412.81" y2="565.50" stroke="#222" stroke-width="0.9" />
<line x1="414.24" y1="563.50" x2="414.24" y2="565.50" stroke="#222" stroke-width="0.9" />
<line x1="415.42" y1="563.50" x2="415.42" y2="565.50" stroke="#222" stroke-width="0.9" />
<line x1="416.41" y1="563.50" x2="416.41" y2="565.50" stroke="#222" stroke-width="0.9" />
<line x1="417.27" y1="563.50" x2="417.27" y2="565.50" stroke="#222" stroke-width="0.9" />
<line x1="418.02" y1="563.50" x2="418.02" y2="565.50" stroke="#222" stroke-width="0.9" />
<text x="402.90" y="576.20" font-size="7.6" fill="#2b2b2b" text-anchor="middle" textLength="6.4" lengthAdjust="spacingAndGlyphs" >10</text>
<text x="406.20" y="572.60" font-size="4.6" fill="#2b2b2b" textLength="1.8" lengthAdjust="spacingAndGlyphs" >2</text>
<line x1="418.70" y1="563.50" x2="418.70" y2="566.30" stroke="#111" stroke-width="1.2" />
<line x1="423.16" y1="563.50" x2="423.16" y2="565.50" stroke="#222" stroke-width="0.9" />
<line x1="425.76" y1="563.50" x2="425.76" y2="565.50" stroke="#222" stroke-width="0.9" />
<line x1="427.61" y1="563.50" x2="427.61" y2="565.50" stroke="#222" stroke-width="0.9" />
<line x1="429.04" y1="563.50" x2="429.04" y2="565.50" stroke="#222" stroke-width="0.9" />
<line x1="430.22" y1="563.50" x2="430.22" y2="565.50" stroke="#222" stroke-width="0.9" />
<line x1="431.21" y1="563.50" x2="431.21" y2="565.50" stroke="#222" stroke-width="0.9" />
<line x1="432.07" y1="563.50" x2="432.07" y2="565.50" stroke="#222" stroke-width="0.9" />
<line x1="432.82" y1="563.50" x2="432.82" y2="565.50" stroke="#222" stroke-width="0.9" />
<text x="417.70" y="576.20" font-size="7.6" fill="#2b2b2b" text-anchor="middle" textLength="6.4" lengthAdjust="spacingAndGlyphs" >10</text>
<text x="421.00" y="572.60" font-size="4.6" fill="#2b2b2b" textLength="1.8" lengthAdjust="spacingAndGlyphs" >3</text>
<line x1="433.50" y1="563.50" x2="433.50" y2="566.30" stroke="#111" stroke-width="1.2" />
<text x="432.50" y="576.20" font-size="7.6" fill="#2b2b2b" text-anchor="middle" textLength="6.4" lengthAdjust="spacingAndGlyphs" >10</text>
<text x="435.80" y="572.60" font-size="4.6" fill="#2b2b2b" textLength="1.8" lengthAdjust="spacingAndGlyphs" >4</text>
<text x="410.50" y="498.9" font-size="10" fill="#2b2b2b" text-anchor="middle" textLength="44" lengthAdjust="spacingAndGlyphs">sh<tspan font-style="italic">BRD4</tspan>#3</text>
<text x="443.30" y="526.50" font-size="7.6" fill="#2b2b2b" textLength="24.9" lengthAdjust="spacingAndGlyphs">sh<tspan font-style="italic">BRD4</tspan></text>
<text x="443.30" y="538.70" font-size="7.6" fill="#2b2b2b" textLength="31.4" lengthAdjust="spacingAndGlyphs">shRNA co</text>
<text x="443.30" y="550.40" font-size="7.6" fill="#2b2b2b" textLength="24.9" lengthAdjust="spacingAndGlyphs">sh<tspan font-style="italic">BRD4</tspan></text>
<text x="443.30" y="562.50" font-size="7.6" fill="#2b2b2b" textLength="31.4" lengthAdjust="spacingAndGlyphs">shRNA co</text>
<line x1="489.40" y1="521.90" x2="489.40" y2="539.50" stroke="#333" stroke-width="1.2" />
<line x1="489.40" y1="545.40" x2="489.40" y2="563.30" stroke="#333" stroke-width="1.2" />
<text x="493.60" y="534.00" font-size="7.6" fill="#2b2b2b" textLength="15" lengthAdjust="spacingAndGlyphs" >DMF</text>
<text x="493.60" y="557.20" font-size="7.6" fill="#2b2b2b" textLength="14" lengthAdjust="spacingAndGlyphs" >Solv.</text>
<text x="310.10" y="534.30" font-size="10.3" fill="#2b2b2b" text-anchor="middle" textLength="19.4" lengthAdjust="spacingAndGlyphs" transform="rotate(-90 310.10 534.30)" >Count</text>
<line x1="314.00" y1="581.40" x2="370.70" y2="581.40" stroke="#111" stroke-width="1.2" />
<polygon points="370.20,579.30 370.20,583.50 374.70,581.40" fill="#111"/>
<text x="344.40" y="593.80" font-size="10.5" fill="#2b2b2b" text-anchor="middle" textLength="39" lengthAdjust="spacingAndGlyphs" >BODIPY C11</text>
<text x="118.90" y="491.40" font-size="9.6" fill="#2b2b2b" text-anchor="middle" textLength="33.5" lengthAdjust="spacingAndGlyphs" >DOHH2</text>
<line x1="58.30" y1="497.00" x2="58.30" y2="581.50" stroke="#222" stroke-width="1.2" />
<line x1="55.30" y1="580.90" x2="58.30" y2="580.90" stroke="#222" stroke-width="0.9" />
<text x="51.60" y="583.10" font-size="6.4" fill="#2b2b2b" text-anchor="end" >0</text>
<line x1="55.30" y1="560.78" x2="58.30" y2="560.78" stroke="#222" stroke-width="0.9" />
<text x="51.60" y="562.98" font-size="6.4" fill="#2b2b2b" text-anchor="end" >10</text>
<line x1="55.30" y1="540.66" x2="58.30" y2="540.66" stroke="#222" stroke-width="0.9" />
<text x="51.60" y="542.86" font-size="6.4" fill="#2b2b2b" text-anchor="end" >20</text>
<line x1="55.30" y1="520.54" x2="58.30" y2="520.54" stroke="#222" stroke-width="0.9" />
<text x="51.60" y="522.74" font-size="6.4" fill="#2b2b2b" text-anchor="end" >30</text>
<line x1="55.30" y1="500.42" x2="58.30" y2="500.42" stroke="#222" stroke-width="0.9" />
<text x="51.60" y="502.62" font-size="6.4" fill="#2b2b2b" text-anchor="end" >40</text>
<line x1="57.80" y1="580.90" x2="179.00" y2="580.90" stroke="#222" stroke-width="1.2" />
<line x1="78.20" y1="580.90" x2="78.20" y2="584.00" stroke="#222" stroke-width="0.9" />
<line x1="118.50" y1="580.90" x2="118.50" y2="584.00" stroke="#222" stroke-width="0.9" />
<line x1="158.70" y1="580.90" x2="158.70" y2="584.00" stroke="#222" stroke-width="0.9" />
<text x="37.70" y="539.00" font-size="8.4" fill="#2b2b2b" text-anchor="middle" textLength="77.6" lengthAdjust="spacingAndGlyphs" transform="rotate(-90 37.70 539.00)" >Norm. BODIPY C11 MFI</text>
<rect x="63.00" y="579.49" width="5.5" height="1.41" fill="#4a5566" stroke="#2c3340" stroke-width="0.6"/>
<rect x="71.50" y="578.49" width="5.5" height="2.41" fill="#cf1237" stroke="#8e0c26" stroke-width="0.6"/>
<rect x="80.00" y="577.48" width="5.5" height="3.42" fill="#12468a" stroke="#0a2c5a" stroke-width="0.6"/>
<rect x="88.70" y="573.66" width="5.5" height="7.24" fill="#3aac3a" stroke="#24802a" stroke-width="0.6"/>
<rect x="103.30" y="577.28" width="5.5" height="3.62" fill="#4a5566" stroke="#2c3340" stroke-width="0.6"/>
<line x1="114.55" y1="569.23" x2="114.55" y2="572.45" stroke="#222" stroke-width="0.8" />
<line x1="113.30" y1="569.23" x2="115.80" y2="569.23" stroke="#222" stroke-width="0.8" />
<rect x="111.80" y="572.45" width="5.5" height="8.45" fill="#cf1237" stroke="#8e0c26" stroke-width="0.6"/>
<line x1="123.05" y1="557.16" x2="123.05" y2="561.18" stroke="#222" stroke-width="0.8" />
<line x1="121.80" y1="557.16" x2="124.30" y2="557.16" stroke="#222" stroke-width="0.8" />
<rect x="120.30" y="561.18" width="5.5" height="19.72" fill="#12468a" stroke="#0a2c5a" stroke-width="0.6"/>
<line x1="131.75" y1="536.64" x2="131.75" y2="543.48" stroke="#222" stroke-width="0.8" />
<line x1="130.50" y1="536.64" x2="133.00" y2="536.64" stroke="#222" stroke-width="0.8" />
<rect x="129.00" y="543.48" width="5.5" height="37.42" fill="#3aac3a" stroke="#24802a" stroke-width="0.6"/>
<rect x="143.50" y="575.67" width="5.5" height="5.23" fill="#4a5566" stroke="#2c3340" stroke-width="0.6"/>
<rect x="152.00" y="570.64" width="5.5" height="10.26" fill="#cf1237" stroke="#8e0c26" stroke-width="0.6"/>
<rect x="160.50" y="555.75" width="5.5" height="25.15" fill="#12468a" stroke="#0a2c5a" stroke-width="0.6"/>
<line x1="171.95" y1="518.13" x2="171.95" y2="524.56" stroke="#222" stroke-width="0.8" />
<line x1="170.70" y1="518.13" x2="173.20" y2="518.13" stroke="#222" stroke-width="0.8" />
<rect x="169.20" y="524.56" width="5.5" height="56.34" fill="#3aac3a" stroke="#24802a" stroke-width="0.6"/>
<line x1="91.20" y1="511.30" x2="171.30" y2="511.30" stroke="#222" stroke-width="1.0" />
<line x1="91.20" y1="521.40" x2="131.50" y2="521.40" stroke="#222" stroke-width="1.0" />
<text x="131.50" y="511.60" font-size="8.5" fill="#2b2b2b" text-anchor="middle" textLength="8.5" lengthAdjust="spacingAndGlyphs" >***</text>
<text x="111.60" y="521.60" font-size="8.5" fill="#2b2b2b" text-anchor="middle" >*</text>
<text x="78.20" y="594.00" font-size="7" fill="#2b2b2b" text-anchor="middle" textLength="23.5" lengthAdjust="spacingAndGlyphs" >Solvent</text>
<text x="118.50" y="594.00" font-size="7" fill="#2b2b2b" text-anchor="middle" textLength="12.1" lengthAdjust="spacingAndGlyphs" >JQ1</text>
<text x="158.60" y="594.00" font-size="7" fill="#2b2b2b" text-anchor="middle" textLength="28.2" lengthAdjust="spacingAndGlyphs" >I-BET151</text>
<rect x="180.1" y="529.20" width="10.8" height="5" fill="#4a5566"/>
<text x="194.50" y="534.20" font-size="7" fill="#2b2b2b" textLength="20.9" lengthAdjust="spacingAndGlyphs" >Solvent</text>
<rect x="180.1" y="540.70" width="10.8" height="5" fill="#cf1237"/>
<text x="194.50" y="545.70" font-size="7" fill="#2b2b2b" textLength="34.3" lengthAdjust="spacingAndGlyphs" >25 nM RSL3</text>
<rect x="180.1" y="552.20" width="10.8" height="5" fill="#12468a"/>
<text x="194.50" y="557.20" font-size="7" fill="#2b2b2b" textLength="34.3" lengthAdjust="spacingAndGlyphs" >50 nM RSL3</text>
<rect x="180.1" y="563.70" width="10.8" height="5" fill="#3aac3a"/>
<text x="194.50" y="568.70" font-size="7" fill="#2b2b2b" textLength="38.4" lengthAdjust="spacingAndGlyphs" >100 nM RSL3</text>
<rect x="0.00" y="0.00" width="520.00" height="1.00" fill="#464646" />
<rect x="0.00" y="0.00" width="1.00" height="603.00" fill="#464646" />
<rect x="519.00" y="0.00" width="1.00" height="603.00" fill="#464646" />
<rect x="0.00" y="602.00" width="520.00" height="1.00" fill="#464646" />
</svg>
</body></html>
